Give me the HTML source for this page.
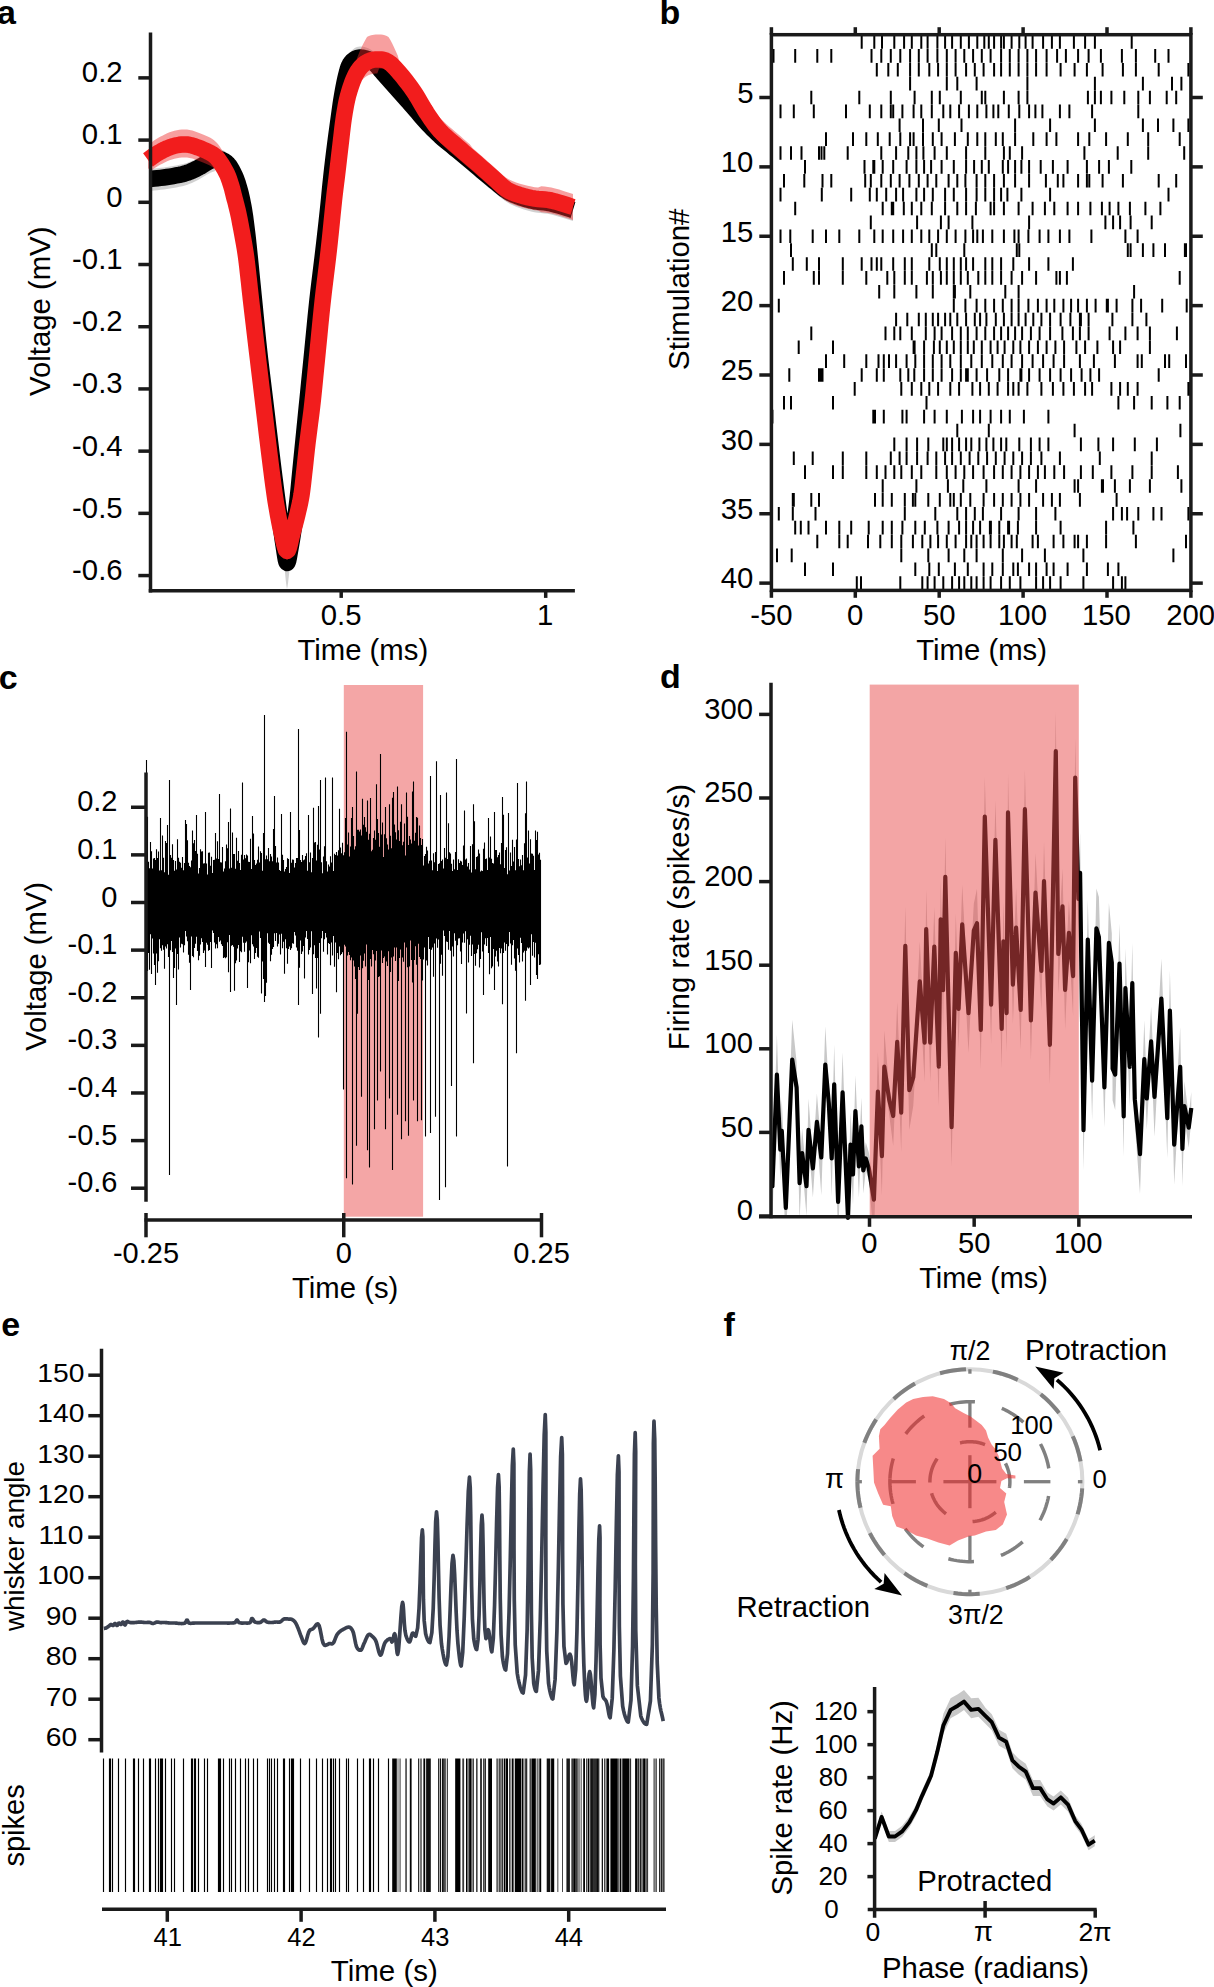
<!DOCTYPE html>
<html><head><meta charset="utf-8"><style>
html,body{margin:0;padding:0;background:#fff;width:1214px;height:1987px;overflow:hidden}
svg{display:block}
text{font-family:"Liberation Sans",sans-serif}
</style></head><body>
<svg width="1214" height="1987" viewBox="0 0 1214 1987">
<rect width="1214" height="1987" fill="#fff"/>
<g stroke-linejoin="round" stroke-linecap="butt">
<path d="M150,169 L151.84,168.8 L154.37,168.54 L157.38,168.22 L160.63,167.85 L163.91,167.44 L167,167 L170,166.53 L173.11,166.02 L176.25,165.47 L179.33,164.87 L182.28,164.22 L185,163.5 L187.47,162.72 L189.74,161.87 L191.88,160.97 L193.93,160.02 L195.95,159.03 L198,158 L200.09,156.86 L202.19,155.59 L204.25,154.28 L206.26,153.02 L208.19,151.89 L210,151 L211.67,150.3 L213.22,149.7 L214.69,149.25 L216.11,148.96 L217.53,148.87 L219,149 L220.52,149.35 L222.07,149.89 L223.62,150.62 L225.15,151.56 L226.62,152.68 L228,154 L229.31,155.56 L230.56,157.37 L231.75,159.38 L232.89,161.52 L233.97,163.75 L235,166 L235.96,168.28 L236.85,170.63 L237.69,173.06 L238.48,175.59 L239.25,178.23 L240,181 L240.74,183.9 L241.44,186.93 L242.12,190.06 L242.78,193.3 L243.4,196.61 L244,200 L244.56,203.48 L245.09,207.07 L245.59,210.75 L246.07,214.48 L246.54,218.24 L247,222 L247.45,225.75 L247.87,229.52 L248.28,233.31 L248.69,237.15 L249.09,241.04 L249.5,245 L249.92,249.11 L250.35,253.37 L250.78,257.69 L251.2,261.96 L251.61,266.1 L252,270 L252.33,273.28 L252.59,275.93 L252.84,278.44 L253.13,281.3 L253.5,284.99 L254,290 L254.65,296.6 L255.41,304.44 L256.25,313.12 L257.15,322.22 L258.07,331.32 L259,340 L259.94,348.33 L260.93,356.67 L261.94,365 L262.96,373.33 L263.99,381.67 L265,390 L266.01,398.45 L267.04,407.04 L268.06,415.62 L269.07,424.07 L270.06,432.25 L271,440 L271.9,447.36 L272.78,454.44 L273.62,461.25 L274.44,467.78 L275.24,474.03 L276,480 L276.73,485.64 L277.43,490.93 L278.09,495.94 L278.74,500.74 L279.37,505.41 L280,510 L280.61,514.54 L281.2,518.96 L281.78,523.25 L282.35,527.37 L282.92,531.3 L283.5,535 L284.08,538.79 L284.67,542.74 L285.25,546.5 L285.83,549.7 L286.42,551.99 L287,553 L287.58,552.49 L288.17,550.7 L288.75,548 L289.33,544.74 L289.92,541.29 L290.5,538 L291.08,534.78 L291.67,531.33 L292.25,527.69 L292.83,523.89 L293.42,519.98 L294,516 L294.59,511.94 L295.19,507.78 L295.78,503.5 L296.37,499.11 L296.95,494.61 L297.5,490 L298.03,485.23 L298.54,480.3 L299.03,475.25 L299.52,470.15 L300.01,465.05 L300.5,460 L300.99,455.12 L301.46,450.37 L301.94,445.62 L302.43,440.74 L302.94,435.58 L303.5,430 L304.1,424.03 L304.72,417.78 L305.38,411.25 L306.06,404.44 L306.76,397.36 L307.5,390 L308.28,382.25 L309.09,374.07 L309.94,365.62 L310.8,357.04 L311.66,348.45 L312.5,340 L313.32,331.67 L314.13,323.33 L314.94,315 L315.76,306.67 L316.61,298.33 L317.5,290 L318.46,281.55 L319.48,272.96 L320.53,264.38 L321.57,255.93 L322.58,247.75 L323.5,240 L324.35,232.64 L325.17,225.56 L325.94,218.75 L326.67,212.22 L327.35,205.97 L328,200 L328.58,194.42 L329.09,189.26 L329.56,184.38 L330.02,179.63 L330.49,174.88 L331,170 L331.55,165 L332.11,160 L332.69,155 L333.28,150 L333.88,145 L334.5,140 L335.14,134.93 L335.81,129.78 L336.5,124.62 L337.19,119.56 L337.86,114.65 L338.5,110 L339.11,105.61 L339.69,101.41 L340.25,96.38 L340.81,92.48 L341.39,88.7 L342,85 L342.64,81.34 L343.3,77.74 L343.97,74.25 L344.65,70.93 L345.33,67.82 L346,65 L346.63,62.47 L347.22,60.19 L347.81,58.12 L348.44,56.26 L349.16,54.56 L350,53 L350.97,51.58 L352.04,50.31 L353.19,49.22 L354.41,48.3 L355.68,47.55 L357,47 L358.4,46.66 L359.89,46.54 L361.44,46.59 L363,46.8 L364.53,47.11 L366,47.5 L367.39,47.97 L368.74,48.54 L370.06,49.22 L371.37,50.02 L372.68,50.94 L374,52 L375.33,53.24 L376.67,54.67 L378,56.22 L379.33,57.83 L380.67,60.45 L382,62 L383.33,63.5 L384.67,65 L386,66.5 L387.33,68 L388.67,69.5 L390,71 L391.33,72.5 L392.67,74 L394,75.5 L395.33,77 L396.67,78.5 L398,80 L399.33,81.5 L400.67,83 L402,84.5 L403.33,86 L404.67,87.5 L406,89 L407.29,90.44 L408.52,91.81 L409.75,93.19 L411.04,94.63 L412.44,96.21 L414,98 L415.75,100.04 L417.63,102.3 L419.62,104.69 L421.7,107.15 L423.84,109.61 L426,112 L428.17,114.32 L430.37,116.63 L432.62,118.94 L434.96,121.26 L437.41,123.61 L440,126 L442.77,128.44 L445.7,130.93 L448.75,133.44 L451.85,135.96 L454.95,138.49 L458,141 L461,143.5 L464,146 L467,148.5 L470,150 L473,152.5 L476,155 L479.02,157.53 L482.07,160.11 L485.12,162.69 L488.15,165.22 L491.12,167.67 L494,170 L496.72,172.23 L499.3,174.39 L501.81,176.47 L504.37,178.44 L507.07,180.3 L510,182 L513.22,183.56 L516.67,185 L520.25,186.31 L523.89,187.5 L527.5,188.56 L531,189.5 L534.37,190.22 L537.67,190.7 L540.94,191.06 L544.22,191.41 L547.56,191.85 L551,192.5 L554.81,193.46 L559,194.65 L563.25,195.94 L567.22,197.19 L570.58,198.25 L573,199 L573,221 L570.58,220.25 L567.22,219.19 L563.25,217.94 L559,216.65 L554.81,215.46 L551,214.5 L547.56,213.85 L544.22,213.41 L540.94,213.06 L537.67,212.7 L534.37,212.22 L531,211.5 L527.5,210.56 L523.89,209.5 L520.25,208.31 L516.67,207 L513.22,205.56 L510,204 L507.07,202.3 L504.37,200.44 L501.81,198.47 L499.3,196.39 L496.72,194.23 L494,192 L491.12,189.67 L488.15,187.22 L485.12,184.69 L482.07,182.11 L479.02,179.53 L476,177 L473,174.5 L470,172 L467,168.5 L464,166 L461,163.5 L458,161 L454.95,158.49 L451.85,155.96 L448.75,153.44 L445.7,150.93 L442.77,148.44 L440,146 L437.41,143.61 L434.96,141.26 L432.62,138.94 L430.37,136.63 L428.17,134.32 L426,132 L423.84,129.61 L421.7,127.15 L419.62,124.69 L417.63,122.3 L415.75,120.04 L414,118 L412.44,116.21 L411.04,114.63 L409.75,113.19 L408.52,111.81 L407.29,110.44 L406,109 L404.67,107.5 L403.33,106 L402,104.5 L400.67,103 L399.33,101.5 L398,100 L396.67,98.5 L395.33,97 L394,95.5 L392.67,94 L391.33,92.5 L390,91 L388.67,89.5 L387.33,88 L386,86.5 L384.67,85 L383.33,83.5 L382,82 L380.67,80.45 L379.33,78.83 L378,77.22 L376.67,75.67 L375.33,74.24 L374,73 L372.68,71.94 L371.37,71.02 L370.06,70.22 L368.74,69.54 L367.39,68.97 L366,68.5 L364.53,68.11 L363,67.8 L361.44,67.59 L359.89,67.54 L358.4,67.66 L357,68 L355.68,68.55 L354.41,69.3 L353.19,70.22 L352.04,71.31 L350.97,72.58 L350,74 L349.16,75.56 L348.44,77.26 L347.81,79.12 L347.22,81.19 L346.63,83.47 L346,86 L345.33,88.82 L344.65,91.93 L343.97,95.25 L343.3,98.74 L342.64,102.34 L342,106 L341.39,109.7 L340.81,113.48 L340.25,117.38 L339.69,121.41 L339.11,125.61 L338.5,130 L337.86,134.65 L337.19,139.56 L336.5,144.62 L335.81,149.78 L335.14,154.93 L334.5,160 L333.88,165 L333.28,170 L332.69,175 L332.11,180 L331.55,185 L331,190 L330.49,194.88 L330.02,199.63 L329.56,204.38 L329.09,209.26 L328.58,214.42 L328,220 L327.35,225.97 L326.67,232.22 L325.94,238.75 L325.17,245.56 L324.35,252.64 L323.5,260 L322.58,267.75 L321.57,275.93 L320.53,284.38 L319.48,292.96 L318.46,301.55 L317.5,310 L316.61,318.33 L315.76,326.67 L314.94,335 L314.13,343.33 L313.32,351.67 L312.5,360 L311.66,368.45 L310.8,377.04 L309.94,385.62 L309.09,394.07 L308.28,402.25 L307.5,410 L306.76,417.36 L306.06,424.44 L305.38,431.25 L304.72,437.78 L304.1,444.03 L303.5,450 L302.94,455.58 L302.43,460.74 L301.94,465.62 L301.46,470.37 L300.99,475.12 L300.5,480 L300.01,485.05 L299.52,490.15 L299.03,495.25 L298.54,500.3 L298.03,505.23 L297.5,510 L296.95,514.61 L296.37,519.11 L295.78,523.5 L295.19,527.78 L294.59,531.94 L294,536 L293.42,539.98 L292.83,543.89 L292.25,547.69 L291.67,551.33 L291.08,554.78 L290.5,560 L289.92,565.62 L289.33,571.41 L288.75,577 L288.17,582.04 L287.58,586.16 L287,589 L286.42,585.66 L285.83,581.04 L285.25,575.5 L284.67,569.41 L284.08,563.12 L283.5,557 L282.92,551.3 L282.35,547.37 L281.78,543.25 L281.2,538.96 L280.61,534.54 L280,530 L279.37,525.41 L278.74,520.74 L278.09,515.94 L277.43,510.93 L276.73,505.64 L276,500 L275.24,494.03 L274.44,487.78 L273.62,481.25 L272.78,474.44 L271.9,467.36 L271,460 L270.06,452.25 L269.07,444.07 L268.06,435.62 L267.04,427.04 L266.01,418.45 L265,410 L263.99,401.67 L262.96,393.33 L261.94,385 L260.93,376.67 L259.94,368.33 L259,360 L258.07,351.32 L257.15,342.22 L256.25,333.12 L255.41,324.44 L254.65,316.6 L254,310 L253.5,304.99 L253.13,301.3 L252.84,298.44 L252.59,295.93 L252.33,293.28 L252,290 L251.61,286.1 L251.2,281.96 L250.78,277.69 L250.35,273.37 L249.92,269.11 L249.5,265 L249.09,261.04 L248.69,257.15 L248.28,253.31 L247.87,249.52 L247.45,245.75 L247,242 L246.54,238.24 L246.07,234.48 L245.59,230.75 L245.09,227.07 L244.56,223.48 L244,220 L243.4,216.61 L242.78,213.3 L242.12,210.06 L241.44,206.93 L240.74,203.9 L240,201 L239.25,198.23 L238.48,195.59 L237.69,193.06 L236.85,190.63 L235.96,188.28 L235,186 L233.97,183.75 L232.89,181.52 L231.75,179.38 L230.56,177.37 L229.31,175.56 L228,174 L226.62,172.68 L225.15,171.56 L223.62,170.62 L222.07,169.89 L220.52,169.35 L219,169 L217.53,168.87 L216.11,168.96 L214.69,171.25 L213.22,171.7 L211.67,172.3 L210,173 L208.19,173.89 L206.26,175.02 L204.25,176.28 L202.19,177.59 L200.09,178.86 L198,180 L195.95,181.03 L193.93,182.02 L191.88,182.97 L189.74,183.87 L187.47,184.72 L185,185.5 L182.28,186.22 L179.33,186.87 L176.25,187.47 L173.11,188.02 L170,188.53 L167,189 L163.91,189.44 L160.63,189.85 L157.38,190.22 L154.37,190.54 L151.84,190.8 L150,191Z" fill="#c9c9c9" stroke="none" opacity="0.85"/>
<path d="M150,179 L151.84,178.8 L154.37,178.54 L157.38,178.22 L160.63,177.85 L163.91,177.44 L167,177 L170,176.53 L173.11,176.02 L176.25,175.47 L179.33,174.87 L182.28,174.22 L185,173.5 L187.47,172.72 L189.74,171.87 L191.88,170.97 L193.93,170.02 L195.95,169.03 L198,168 L200.09,166.86 L202.19,165.59 L204.25,164.28 L206.26,163.02 L208.19,161.89 L210,161 L211.67,160.3 L213.22,159.7 L214.69,159.25 L216.11,158.96 L217.53,158.87 L219,159 L220.52,159.35 L222.07,159.89 L223.62,160.62 L225.15,161.56 L226.62,162.68 L228,164 L229.31,165.56 L230.56,167.37 L231.75,169.38 L232.89,171.52 L233.97,173.75 L235,176 L235.96,178.28 L236.85,180.63 L237.69,183.06 L238.48,185.59 L239.25,188.23 L240,191 L240.74,193.9 L241.44,196.93 L242.12,200.06 L242.78,203.3 L243.4,206.61 L244,210 L244.56,213.48 L245.09,217.07 L245.59,220.75 L246.07,224.48 L246.54,228.24 L247,232 L247.45,235.75 L247.87,239.52 L248.28,243.31 L248.69,247.15 L249.09,251.04 L249.5,255 L249.92,259.11 L250.35,263.37 L250.78,267.69 L251.2,271.96 L251.61,276.1 L252,280 L252.33,283.28 L252.59,285.93 L252.84,288.44 L253.13,291.3 L253.5,294.99 L254,300 L254.65,306.6 L255.41,314.44 L256.25,323.12 L257.15,332.22 L258.07,341.32 L259,350 L259.94,358.33 L260.93,366.67 L261.94,375 L262.96,383.33 L263.99,391.67 L265,400 L266.01,408.45 L267.04,417.04 L268.06,425.62 L269.07,434.07 L270.06,442.25 L271,450 L271.9,457.36 L272.78,464.44 L273.62,471.25 L274.44,477.78 L275.24,484.03 L276,490 L276.73,495.64 L277.43,500.93 L278.09,505.94 L278.74,510.74 L279.37,515.41 L280,520 L280.61,524.54 L281.2,528.96 L281.78,533.25 L282.35,537.37 L282.92,541.3 L283.5,545 L284.08,548.79 L284.67,552.74 L285.25,556.5 L285.83,559.7 L286.42,561.99 L287,563 L287.58,562.49 L288.17,560.7 L288.75,558 L289.33,554.74 L289.92,551.29 L290.5,548 L291.08,544.78 L291.67,541.33 L292.25,537.69 L292.83,533.89 L293.42,529.98 L294,526 L294.59,521.94 L295.19,517.78 L295.78,513.5 L296.37,509.11 L296.95,504.61 L297.5,500 L298.03,495.23 L298.54,490.3 L299.03,485.25 L299.52,480.15 L300.01,475.05 L300.5,470 L300.99,465.12 L301.46,460.37 L301.94,455.62 L302.43,450.74 L302.94,445.58 L303.5,440 L304.1,434.03 L304.72,427.78 L305.38,421.25 L306.06,414.44 L306.76,407.36 L307.5,400 L308.28,392.25 L309.09,384.07 L309.94,375.62 L310.8,367.04 L311.66,358.45 L312.5,350 L313.32,341.67 L314.13,333.33 L314.94,325 L315.76,316.67 L316.61,308.33 L317.5,300 L318.46,291.55 L319.48,282.96 L320.53,274.38 L321.57,265.93 L322.58,257.75 L323.5,250 L324.35,242.64 L325.17,235.56 L325.94,228.75 L326.67,222.22 L327.35,215.97 L328,210 L328.58,204.42 L329.09,199.26 L329.56,194.38 L330.02,189.63 L330.49,184.88 L331,180 L331.55,175 L332.11,170 L332.69,165 L333.28,160 L333.88,155 L334.5,150 L335.14,144.93 L335.81,139.78 L336.5,134.62 L337.19,129.56 L337.86,124.65 L338.5,120 L339.11,115.61 L339.69,111.41 L340.25,107.38 L340.81,103.48 L341.39,99.7 L342,96 L342.64,92.34 L343.3,88.74 L343.97,85.25 L344.65,81.93 L345.33,78.82 L346,76 L346.63,73.47 L347.22,71.19 L347.81,69.12 L348.44,67.26 L349.16,65.56 L350,64 L350.97,62.58 L352.04,61.31 L353.19,60.22 L354.41,59.3 L355.68,58.55 L357,58 L358.4,57.66 L359.89,57.54 L361.44,57.59 L363,57.8 L364.53,58.11 L366,58.5 L367.39,58.97 L368.74,59.54 L370.06,60.22 L371.37,61.02 L372.68,61.94 L374,63 L375.33,64.24 L376.67,65.67 L378,67.22 L379.33,68.83 L380.67,70.45 L382,72 L383.33,73.5 L384.67,75 L386,76.5 L387.33,78 L388.67,79.5 L390,81 L391.33,82.5 L392.67,84 L394,85.5 L395.33,87 L396.67,88.5 L398,90 L399.33,91.5 L400.67,93 L402,94.5 L403.33,96 L404.67,97.5 L406,99 L407.29,100.44 L408.52,101.81 L409.75,103.19 L411.04,104.63 L412.44,106.21 L414,108 L415.75,110.04 L417.63,112.3 L419.62,114.69 L421.7,117.15 L423.84,119.61 L426,122 L428.17,124.32 L430.37,126.63 L432.62,128.94 L434.96,131.26 L437.41,133.61 L440,136 L442.77,138.44 L445.7,140.93 L448.75,143.44 L451.85,145.96 L454.95,148.49 L458,151 L461,153.5 L464,156 L467,158.5 L470,161 L473,163.5 L476,166 L479.02,168.53 L482.07,171.11 L485.12,173.69 L488.15,176.22 L491.12,178.67 L494,181 L496.72,183.23 L499.3,185.39 L501.81,187.47 L504.37,189.44 L507.07,191.3 L510,193 L513.22,194.56 L516.67,196 L520.25,197.31 L523.89,198.5 L527.5,199.56 L531,200.5 L534.37,201.22 L537.67,201.7 L540.94,202.06 L544.22,202.41 L547.56,202.85 L551,203.5 L554.81,204.46 L559,205.65 L563.25,206.94 L567.22,208.19 L570.58,209.25 L573,210" fill="none" stroke="#000" stroke-width="16.5"/>
<path d="M148,151 L149.04,150.23 L150.44,143.17 L152.12,141.91 L154,140.56 L155.99,139.22 L158,138 L160.09,136.84 L162.33,135.63 L164.69,134.44 L167.11,133.31 L169.56,132.32 L172,131.5 L174.43,130.83 L176.89,130.24 L179.38,129.78 L181.89,129.48 L184.43,129.38 L187,129.5 L189.64,129.9 L192.37,130.56 L195.12,131.41 L197.85,132.39 L200.5,133.44 L203,134.5 L205.38,135.52 L207.67,136.54 L209.88,137.62 L212,138.85 L214.04,140.29 L216,142 L217.9,144.09 L219.74,146.52 L221.5,149.16 L223.15,151.87 L224.66,154.53 L226,163 L227.15,165.3 L228.11,167.54 L228.94,169.72 L229.67,171.86 L230.34,173.95 L231,176 L231.61,177.97 L232.13,179.84 L232.59,181.66 L233.04,183.5 L233.49,185.39 L234,187.4 L234.56,189.53 L235.15,191.73 L235.75,194 L236.35,196.31 L236.94,198.65 L237.5,201 L238.01,203.22 L238.46,205.29 L238.91,207.39 L239.37,209.69 L239.89,212.37 L240.5,215.6 L241.24,219.52 L242.08,224.03 L242.98,228.91 L243.89,233.97 L244.74,239 L245.5,243.8 L246.16,248.47 L246.77,253.21 L247.32,257.91 L247.84,262.5 L248.33,266.89 L248.8,271 L249.19,274.39 L249.47,277.05 L249.73,279.51 L250.03,282.3 L250.43,285.96 L251,291 L251.78,297.72 L252.72,305.74 L253.76,314.62 L254.86,323.93 L255.96,333.2 L257,342 L258,350.39 L259,358.74 L260,367.06 L261,375.37 L262,383.68 L263,392 L264.01,400.46 L265.04,409.07 L266.06,417.69 L267.07,426.15 L268.06,434.3 L269,442 L269.91,449.33 L270.8,456.44 L271.66,463.25 L272.48,469.67 L273.27,475.61 L274,481 L274.66,485.67 L275.26,489.67 L275.81,493.19 L276.35,496.44 L276.91,499.65 L277.5,503 L278.12,506.46 L278.74,509.85 L279.38,513.19 L280.04,516.48 L280.74,519.75 L281.5,523 L282.33,526.65 L283.22,530.78 L284.16,534.88 L285.11,538.44 L286.07,540.99 L287,542 L287.92,541.15 L288.85,538.78 L289.78,535.38 L290.7,531.44 L291.61,527.49 L292.5,524 L293.37,520.89 L294.24,517.74 L295.09,514.56 L295.93,511.37 L296.73,508.18 L297.5,505 L298.24,501.9 L298.94,498.89 L299.62,495.88 L300.28,492.78 L300.9,489.51 L301.5,486 L302.06,482.16 L302.59,478.04 L303.09,473.75 L303.57,469.41 L304.04,465.12 L304.5,461 L304.95,457.02 L305.37,453.07 L305.78,449.19 L306.19,445.37 L306.59,441.64 L307,438 L307.41,434.56 L307.81,431.33 L308.21,428.19 L308.61,425 L309.04,421.65 L309.5,418 L309.97,414.29 L310.45,410.67 L310.94,406.88 L311.47,402.67 L312.05,397.79 L312.7,392 L313.43,385.06 L314.23,377.11 L315.09,368.5 L315.97,359.56 L316.85,350.61 L317.7,342 L318.52,333.68 L319.33,325.37 L320.13,317.06 L320.95,308.74 L321.8,300.39 L322.7,292 L323.66,283.55 L324.69,275.04 L325.74,266.5 L326.79,257.96 L327.82,249.45 L328.8,241 L329.74,232.32 L330.68,223.33 L331.59,214.38 L332.46,205.78 L333.27,197.88 L334,191 L334.62,185.44 L335.14,181 L335.61,177.25 L336.04,173.78 L336.5,170.17 L337,166 L337.56,161.23 L338.15,156.19 L338.75,151 L339.35,145.81 L339.94,140.77 L340.5,136 L341.02,131.49 L341.52,127.11 L342,122.88 L342.48,118.78 L342.98,114.82 L343.5,111 L344.05,107.31 L344.61,103.74 L345.19,100.31 L345.78,97.04 L346.38,93.93 L347,91 L347.64,88.27 L348.3,85.74 L348.97,83.38 L349.65,81.15 L350.33,79.03 L351,77 L351.66,75.08 L352.3,73.3 L352.94,71.09 L353.59,68.79 L354.28,66.5 L355,64.2 L355.75,61.9 L356.52,59.64 L357.31,57.41 L358.15,55.18 L359.04,52.95 L360,50.7 L361.03,48.41 L362.13,46.08 L363.28,43.75 L364.47,41.45 L365.72,39.18 L367,37 L368.31,36.33 L369.66,35.76 L371.04,35.28 L372.49,34.91 L374,34.64 L375.6,34.5 L377.31,34.42 L379.11,34.39 L380.99,34.47 L382.91,34.72 L384.82,35.21 L386.7,36 L388.5,37.06 L390.23,39.69 L391.97,43.11 L393.77,46.85 L395.69,51.01 L397.8,55.68 L400.17,64.73 L402.75,67.85 L405.46,71.25 L408.2,74.81 L410.88,78.44 L413.4,82 L415.76,85.6 L418.03,89.33 L420.24,93.12 L422.42,96.89 L424.6,100.54 L426.8,104 L428.97,107.25 L431.07,106.37 L433.18,109.38 L435.34,112.3 L437.62,115.16 L440.1,118 L442.81,120.79 L445.7,123.51 L448.72,126.17 L451.8,128.79 L454.88,131.4 L457.9,134 L460.87,136.59 L463.83,139.14 L466.8,141.67 L469.77,144.2 L472.73,148.23 L475.7,150.8 L478.69,153.42 L481.71,156.1 L484.74,158.79 L487.73,161.45 L490.66,164.03 L493.5,166.5 L496.15,168.89 L498.62,171.26 L501.02,173.54 L503.49,175.71 L506.14,177.71 L509.1,179.5 L512.44,181.07 L516.09,182.44 L519.92,183.66 L523.82,184.72 L527.65,185.66 L531.3,186.5 L534.74,187.13 L538.07,187.52 L541.33,186.28 L544.59,186.54 L547.89,186.9 L551.3,187.5 L555.07,188.43 L559.21,189.61 L563.4,190.91 L567.31,192.17 L570.62,193.25 L573,194 L573,220 L570.62,219.25 L567.31,218.17 L563.4,216.91 L559.21,215.61 L555.07,214.43 L551.3,213.5 L547.89,212.9 L544.59,212.54 L541.33,212.28 L538.07,210.52 L534.74,210.13 L531.3,209.5 L527.65,208.66 L523.82,207.72 L519.92,206.66 L516.09,205.44 L512.44,204.07 L509.1,202.5 L506.14,200.71 L503.49,198.71 L501.02,196.54 L498.62,194.26 L496.15,191.89 L493.5,189.5 L490.66,187.03 L487.73,184.45 L484.74,181.79 L481.71,179.1 L478.69,176.42 L475.7,173.8 L472.73,171.23 L469.77,168.7 L466.8,166.17 L463.83,163.64 L460.87,161.09 L457.9,158.5 L454.88,155.9 L451.8,153.29 L448.72,150.67 L445.7,148.01 L442.81,145.29 L440.1,142.5 L437.62,139.66 L435.34,136.8 L433.18,133.88 L431.07,130.87 L428.97,125.25 L426.8,122 L424.6,118.54 L422.42,114.89 L420.24,111.12 L418.03,107.33 L415.76,103.6 L413.4,100 L410.88,96.44 L408.2,92.81 L405.46,89.25 L402.75,85.85 L400.17,82.73 L397.8,80 L395.69,77.66 L393.77,75.61 L391.97,73.84 L390.23,72.33 L388.5,71.06 L386.7,70 L384.82,69.21 L382.91,68.72 L380.99,68.47 L379.11,68.39 L377.31,73.42 L375.6,73.5 L374,73.64 L372.49,73.91 L371.04,74.28 L369.66,74.76 L368.31,75.33 L367,76 L365.72,76.77 L364.47,77.67 L363.28,78.66 L362.13,79.72 L361.03,75.84 L360,77 L359.04,78.19 L358.15,79.44 L357.31,80.75 L356.52,82.11 L355.75,83.53 L355,85 L354.28,86.5 L353.59,88.04 L352.94,89.62 L352.3,91.3 L351.66,93.08 L351,95 L350.33,97.03 L349.65,99.15 L348.97,101.38 L348.3,103.74 L347.64,106.27 L347,109 L346.38,111.93 L345.78,115.04 L345.19,118.31 L344.61,121.74 L344.05,125.31 L343.5,129 L342.98,132.82 L342.48,136.78 L342,140.88 L341.52,145.11 L341.02,149.49 L340.5,154 L339.94,158.77 L339.35,163.81 L338.75,169 L338.15,174.19 L337.56,179.23 L337,184 L336.5,188.17 L336.04,191.78 L335.61,195.25 L335.14,199 L334.62,203.44 L334,209 L333.27,215.88 L332.46,223.78 L331.59,232.38 L330.68,241.33 L329.74,250.32 L328.8,259 L327.82,267.45 L326.79,275.96 L325.74,284.5 L324.69,293.04 L323.66,301.55 L322.7,310 L321.8,318.39 L320.95,326.74 L320.13,335.06 L319.33,343.37 L318.52,351.68 L317.7,360 L316.85,368.61 L315.97,377.56 L315.09,386.5 L314.23,395.11 L313.43,403.06 L312.7,410 L312.05,415.79 L311.47,420.67 L310.94,424.88 L310.45,428.67 L309.97,432.29 L309.5,436 L309.04,439.65 L308.61,443 L308.21,446.19 L307.81,449.33 L307.41,452.56 L307,456 L306.59,459.64 L306.19,463.37 L305.78,467.19 L305.37,471.07 L304.95,475.02 L304.5,479 L304.04,483.12 L303.57,487.41 L303.09,491.75 L302.59,496.04 L302.06,500.16 L301.5,504 L300.9,507.51 L300.28,510.78 L299.62,513.88 L298.94,516.89 L298.24,519.9 L297.5,523 L296.73,526.18 L295.93,529.37 L295.09,532.56 L294.24,535.74 L293.37,538.89 L292.5,542 L291.61,545.49 L290.7,549.44 L289.78,553.38 L288.85,556.78 L287.92,559.15 L287,560 L286.07,558.99 L285.11,556.44 L284.16,552.88 L283.22,548.78 L282.33,544.65 L281.5,541 L280.74,537.75 L280.04,534.48 L279.38,531.19 L278.74,527.85 L278.12,524.46 L277.5,521 L276.91,517.65 L276.35,514.44 L275.81,511.19 L275.26,507.67 L274.66,503.67 L274,499 L273.27,493.61 L272.48,487.67 L271.66,481.25 L270.8,474.44 L269.91,467.33 L269,460 L268.06,452.3 L267.07,444.15 L266.06,435.69 L265.04,427.07 L264.01,418.46 L263,410 L262,401.68 L261,393.37 L260,385.06 L259,376.74 L258,368.39 L257,360 L255.96,351.2 L254.86,341.93 L253.76,332.62 L252.72,323.74 L251.78,315.72 L251,309 L250.43,303.96 L250.03,300.3 L249.73,297.51 L249.47,295.05 L249.19,292.39 L248.8,289 L248.33,284.89 L247.84,280.5 L247.32,275.91 L246.77,271.21 L246.16,266.47 L245.5,261.8 L244.74,257 L243.89,251.97 L242.98,246.91 L242.08,242.03 L241.24,237.52 L240.5,233.6 L239.89,230.37 L239.37,227.69 L238.91,225.39 L238.46,223.29 L238.01,221.22 L237.5,219 L236.94,216.65 L236.35,214.31 L235.75,212 L235.15,209.73 L234.56,207.53 L234,205.4 L233.49,203.39 L233.04,201.5 L232.59,199.66 L232.13,197.84 L231.61,195.97 L231,194 L230.34,191.95 L229.67,189.86 L228.94,187.72 L228.11,185.54 L227.15,183.3 L226,181 L224.66,182.53 L223.15,179.87 L221.5,177.16 L219.74,174.52 L217.9,172.09 L216,170 L214.04,168.29 L212,166.85 L209.88,165.62 L207.67,164.54 L205.38,163.52 L203,162.5 L200.5,161.44 L197.85,160.39 L195.12,159.41 L192.37,158.56 L189.64,157.9 L187,157.5 L184.43,157.38 L181.89,157.48 L179.38,157.78 L176.89,158.24 L174.43,158.83 L172,159.5 L169.56,160.32 L167.11,161.31 L164.69,162.44 L162.33,163.63 L160.09,164.84 L158,166 L155.99,167.22 L154,168.56 L152.12,169.91 L150.44,171.17 L149.04,168.23 L148,169Z" fill="#ee2a2a" stroke="none" opacity="0.45"/>
<path d="M148,160 L149.04,159.23 L150.44,158.17 L152.12,156.91 L154,155.56 L155.99,154.22 L158,153 L160.09,151.84 L162.33,150.63 L164.69,149.44 L167.11,148.31 L169.56,147.32 L172,146.5 L174.43,145.83 L176.89,145.24 L179.38,144.78 L181.89,144.48 L184.43,144.38 L187,144.5 L189.64,144.9 L192.37,145.56 L195.12,146.41 L197.85,147.39 L200.5,148.44 L203,149.5 L205.38,150.52 L207.67,151.54 L209.88,152.62 L212,153.85 L214.04,155.29 L216,157 L217.9,159.09 L219.74,161.52 L221.5,164.16 L223.15,166.87 L224.66,169.53 L226,172 L227.15,174.3 L228.11,176.54 L228.94,178.72 L229.67,180.86 L230.34,182.95 L231,185 L231.61,186.97 L232.13,188.84 L232.59,190.66 L233.04,192.5 L233.49,194.39 L234,196.4 L234.56,198.53 L235.15,200.73 L235.75,203 L236.35,205.31 L236.94,207.65 L237.5,210 L238.01,212.22 L238.46,214.29 L238.91,216.39 L239.37,218.69 L239.89,221.37 L240.5,224.6 L241.24,228.52 L242.08,233.03 L242.98,237.91 L243.89,242.97 L244.74,248 L245.5,252.8 L246.16,257.47 L246.77,262.21 L247.32,266.91 L247.84,271.5 L248.33,275.89 L248.8,280 L249.19,283.39 L249.47,286.05 L249.73,288.51 L250.03,291.3 L250.43,294.96 L251,300 L251.78,306.72 L252.72,314.74 L253.76,323.62 L254.86,332.93 L255.96,342.2 L257,351 L258,359.39 L259,367.74 L260,376.06 L261,384.37 L262,392.68 L263,401 L264.01,409.46 L265.04,418.07 L266.06,426.69 L267.07,435.15 L268.06,443.3 L269,451 L269.91,458.33 L270.8,465.44 L271.66,472.25 L272.48,478.67 L273.27,484.61 L274,490 L274.66,494.67 L275.26,498.67 L275.81,502.19 L276.35,505.44 L276.91,508.65 L277.5,512 L278.12,515.46 L278.74,518.85 L279.38,522.19 L280.04,525.48 L280.74,528.75 L281.5,532 L282.33,535.65 L283.22,539.78 L284.16,543.88 L285.11,547.44 L286.07,549.99 L287,551 L287.92,550.15 L288.85,547.78 L289.78,544.38 L290.7,540.44 L291.61,536.49 L292.5,533 L293.37,529.89 L294.24,526.74 L295.09,523.56 L295.93,520.37 L296.73,517.18 L297.5,514 L298.24,510.9 L298.94,507.89 L299.62,504.88 L300.28,501.78 L300.9,498.51 L301.5,495 L302.06,491.16 L302.59,487.04 L303.09,482.75 L303.57,478.41 L304.04,474.12 L304.5,470 L304.95,466.02 L305.37,462.07 L305.78,458.19 L306.19,454.37 L306.59,450.64 L307,447 L307.41,443.56 L307.81,440.33 L308.21,437.19 L308.61,434 L309.04,430.65 L309.5,427 L309.97,423.29 L310.45,419.67 L310.94,415.88 L311.47,411.67 L312.05,406.79 L312.7,401 L313.43,394.06 L314.23,386.11 L315.09,377.5 L315.97,368.56 L316.85,359.61 L317.7,351 L318.52,342.68 L319.33,334.37 L320.13,326.06 L320.95,317.74 L321.8,309.39 L322.7,301 L323.66,292.55 L324.69,284.04 L325.74,275.5 L326.79,266.96 L327.82,258.45 L328.8,250 L329.74,241.32 L330.68,232.33 L331.59,223.38 L332.46,214.78 L333.27,206.88 L334,200 L334.62,194.44 L335.14,190 L335.61,186.25 L336.04,182.78 L336.5,179.17 L337,175 L337.56,170.23 L338.15,165.19 L338.75,160 L339.35,154.81 L339.94,149.77 L340.5,145 L341.02,140.49 L341.52,136.11 L342,131.88 L342.48,127.78 L342.98,123.82 L343.5,120 L344.05,116.31 L344.61,112.74 L345.19,109.31 L345.78,106.04 L346.38,102.93 L347,100 L347.64,97.27 L348.3,94.74 L348.97,92.38 L349.65,90.15 L350.33,88.03 L351,86 L351.66,84.08 L352.3,82.3 L352.94,80.62 L353.59,79.04 L354.28,77.5 L355,76 L355.75,74.53 L356.52,73.11 L357.31,71.75 L358.15,70.44 L359.04,69.19 L360,68 L361.03,66.84 L362.13,65.72 L363.28,64.66 L364.47,63.67 L365.72,62.77 L367,62 L368.31,61.33 L369.66,60.76 L371.04,60.28 L372.49,59.91 L374,59.64 L375.6,59.5 L377.31,59.42 L379.11,59.39 L380.99,59.47 L382.91,59.72 L384.82,60.21 L386.7,61 L388.5,62.06 L390.23,63.33 L391.97,64.84 L393.77,66.61 L395.69,68.66 L397.8,71 L400.17,73.73 L402.75,76.85 L405.46,80.25 L408.2,83.81 L410.88,87.44 L413.4,91 L415.76,94.6 L418.03,98.33 L420.24,102.12 L422.42,105.89 L424.6,109.54 L426.8,113 L428.97,116.25 L431.07,119.37 L433.18,122.38 L435.34,125.3 L437.62,128.16 L440.1,131 L442.81,133.79 L445.7,136.51 L448.72,139.17 L451.8,141.79 L454.88,144.4 L457.9,147 L460.87,149.59 L463.83,152.14 L466.8,154.67 L469.77,157.2 L472.73,159.73 L475.7,162.3 L478.69,164.92 L481.71,167.6 L484.74,170.29 L487.73,172.95 L490.66,175.53 L493.5,178 L496.15,180.39 L498.62,182.76 L501.02,185.04 L503.49,187.21 L506.14,189.21 L509.1,191 L512.44,192.57 L516.09,193.94 L519.92,195.16 L523.82,196.22 L527.65,197.16 L531.3,198 L534.74,198.63 L538.07,199.02 L541.33,199.28 L544.59,199.54 L547.89,199.9 L551.3,200.5 L555.07,201.43 L559.21,202.61 L563.4,203.91 L567.31,205.17 L570.62,206.25 L573,207" fill="none" stroke="#f21d1d" stroke-width="16.5"/>
</g>
<line x1="150.5" y1="32.5" x2="150.5" y2="592.5" stroke="#1a1a1a" stroke-width="3.5"/>
<line x1="148.75" y1="590.75" x2="574.9" y2="590.75" stroke="#1a1a1a" stroke-width="3.5"/>
<line x1="138.3" y1="77.88" x2="150.5" y2="77.88" stroke="#1a1a1a" stroke-width="3.5"/>
<line x1="138.3" y1="140.09" x2="150.5" y2="140.09" stroke="#1a1a1a" stroke-width="3.5"/>
<line x1="138.3" y1="202.3" x2="150.5" y2="202.3" stroke="#1a1a1a" stroke-width="3.5"/>
<line x1="138.3" y1="264.51" x2="150.5" y2="264.51" stroke="#1a1a1a" stroke-width="3.5"/>
<line x1="138.3" y1="326.72" x2="150.5" y2="326.72" stroke="#1a1a1a" stroke-width="3.5"/>
<line x1="138.3" y1="388.93" x2="150.5" y2="388.93" stroke="#1a1a1a" stroke-width="3.5"/>
<line x1="138.3" y1="451.14" x2="150.5" y2="451.14" stroke="#1a1a1a" stroke-width="3.5"/>
<line x1="138.3" y1="513.35" x2="150.5" y2="513.35" stroke="#1a1a1a" stroke-width="3.5"/>
<line x1="138.3" y1="575.56" x2="150.5" y2="575.56" stroke="#1a1a1a" stroke-width="3.5"/>
<line x1="341.2" y1="590.75" x2="341.2" y2="597.9" stroke="#1a1a1a" stroke-width="3.5"/>
<line x1="545.7" y1="590.75" x2="545.7" y2="597.9" stroke="#1a1a1a" stroke-width="3.5"/>
<path d="M861.7,35.2v13.6M874.3,35.2v13.6M882.0,35.2v13.6M894.3,35.2v13.6M904.1,35.2v13.6M911.8,35.2v13.6M921.3,35.2v13.6M927.6,35.2v13.6M937.4,35.2v13.6M945.1,35.2v13.6M952.1,35.2v13.6M960.8,35.2v13.6M968.9,35.2v13.6M977.3,35.2v13.6M984.3,35.2v13.6M988.8,35.2v13.6M994.1,35.2v13.6M1001.1,35.2v13.6M1003.9,35.2v13.6M1011.6,35.2v13.6M1019.3,35.2v13.6M1025.6,35.2v13.6M1032.6,35.2v13.6M1043.1,35.2v13.6M1051.9,35.2v13.6M1059.9,35.2v13.6M1073.9,35.2v13.6M1085.1,35.2v13.6M1094.9,35.2v13.6M1131.7,35.2v13.6M773.5,49.1v13.6M795.2,49.1v13.6M817.3,49.1v13.6M831.3,49.1v13.6M871.5,49.1v13.6M881.3,49.1v13.6M890.8,49.1v13.6M900.3,49.1v13.6M910.1,49.1v13.6M918.8,49.1v13.6M927.6,49.1v13.6M937.4,49.1v13.6M946.8,49.1v13.6M955.6,49.1v13.6M964.3,49.1v13.6M973.1,49.1v13.6M981.8,49.1v13.6M990.6,49.1v13.6M1001.1,49.1v13.6M1009.8,49.1v13.6M1018.6,49.1v13.6M1027.4,49.1v13.6M1036.1,49.1v13.6M1046.6,49.1v13.6M1057.1,49.1v13.6M1065.9,49.1v13.6M1078.1,49.1v13.6M1088.6,49.1v13.6M1100.9,49.1v13.6M1121.9,49.1v13.6M1135.9,49.1v13.6M1155.2,49.1v13.6M1168.5,49.1v13.6M876.8,63.0v13.6M888.3,63.0v13.6M897.8,63.0v13.6M910.1,63.0v13.6M918.8,63.0v13.6M929.3,63.0v13.6M938.1,63.0v13.6M946.8,63.0v13.6M955.6,63.0v13.6M966.1,63.0v13.6M974.8,63.0v13.6M983.6,63.0v13.6M994.1,63.0v13.6M1001.1,63.0v13.6M1009.8,63.0v13.6M1018.6,63.0v13.6M1027.4,63.0v13.6M1036.1,63.0v13.6M1046.6,63.0v13.6M1060.6,63.0v13.6M1074.6,63.0v13.6M1086.9,63.0v13.6M1102.6,63.0v13.6M1122.9,63.0v13.6M1135.9,63.0v13.6M1158.7,63.0v13.6M1188.4,63.0v13.6M910.1,76.8v13.6M946.8,76.8v13.6M957.3,76.8v13.6M976.6,76.8v13.6M1027.4,76.8v13.6M1094.9,76.8v13.6M1142.9,76.8v13.6M1172.0,76.8v13.6M1181.4,76.8v13.6M811.3,90.7v13.6M859.3,90.7v13.6M890.8,90.7v13.6M914.6,90.7v13.6M931.8,90.7v13.6M939.8,90.7v13.6M960.8,90.7v13.6M981.8,90.7v13.6M985.3,90.7v13.6M1003.9,90.7v13.6M1018.6,90.7v13.6M1027.4,90.7v13.6M1087.9,90.7v13.6M1094.9,90.7v13.6M1100.9,90.7v13.6M1111.4,90.7v13.6M1124.3,90.7v13.6M1138.3,90.7v13.6M1149.9,90.7v13.6M1166.7,90.7v13.6M1176.2,90.7v13.6M780.5,104.6v13.6M793.8,104.6v13.6M813.8,104.6v13.6M846.0,104.6v13.6M869.8,104.6v13.6M881.3,104.6v13.6M890.8,104.6v13.6M893.2,104.6v13.6M902.4,104.6v13.6M913.6,104.6v13.6M921.3,104.6v13.6M931.8,104.6v13.6M943.3,104.6v13.6M950.3,104.6v13.6M959.1,104.6v13.6M968.9,104.6v13.6M977.3,104.6v13.6M986.4,104.6v13.6M993.4,104.6v13.6M998.3,104.6v13.6M1008.8,104.6v13.6M1019.3,104.6v13.6M1029.1,104.6v13.6M1035.4,104.6v13.6M1042.4,104.6v13.6M1059.9,104.6v13.6M1069.4,104.6v13.6M1092.1,104.6v13.6M1138.3,104.6v13.6M899.6,118.5v13.6M923.0,118.5v13.6M938.8,118.5v13.6M961.5,118.5v13.6M1015.1,118.5v13.6M1050.1,118.5v13.6M1094.9,118.5v13.6M1142.9,118.5v13.6M1158.0,118.5v13.6M1173.4,118.5v13.6M1188.4,118.5v13.6M826.0,132.3v13.6M853.0,132.3v13.6M866.3,132.3v13.6M877.8,132.3v13.6M889.7,132.3v13.6M900.3,132.3v13.6M910.1,132.3v13.6M913.6,132.3v13.6M923.0,132.3v13.6M932.8,132.3v13.6M941.6,132.3v13.6M954.9,132.3v13.6M967.8,132.3v13.6M977.3,132.3v13.6M985.3,132.3v13.6M995.8,132.3v13.6M1002.8,132.3v13.6M1015.1,132.3v13.6M1033.3,132.3v13.6M1046.6,132.3v13.6M1056.4,132.3v13.6M1078.1,132.3v13.6M1089.3,132.3v13.6M1106.1,132.3v13.6M1127.8,132.3v13.6M1148.2,132.3v13.6M1179.7,132.3v13.6M780.5,146.2v13.6M791.0,146.2v13.6M801.5,146.2v13.6M819.0,146.2v13.6M821.5,146.2v13.6M824.3,146.2v13.6M847.7,146.2v13.6M881.3,146.2v13.6M896.1,146.2v13.6M908.3,146.2v13.6M916.4,146.2v13.6M923.4,146.2v13.6M934.6,146.2v13.6M946.8,146.2v13.6M966.1,146.2v13.6M985.3,146.2v13.6M1003.9,146.2v13.6M1009.8,146.2v13.6M1022.1,146.2v13.6M1084.4,146.2v13.6M1117.7,146.2v13.6M1148.2,146.2v13.6M1184.2,146.2v13.6M805.0,160.1v13.6M864.5,160.1v13.6M873.3,160.1v13.6M874.3,160.1v13.6M882.7,160.1v13.6M893.2,160.1v13.6M906.6,160.1v13.6M916.4,160.1v13.6M924.1,160.1v13.6M931.1,160.1v13.6M941.6,160.1v13.6M953.8,160.1v13.6M966.1,160.1v13.6M974.1,160.1v13.6M981.8,160.1v13.6M988.8,160.1v13.6M1002.8,160.1v13.6M1008.1,160.1v13.6M1015.1,160.1v13.6M1021.4,160.1v13.6M1029.1,160.1v13.6M1040.7,160.1v13.6M1052.9,160.1v13.6M1067.6,160.1v13.6M1086.9,160.1v13.6M1099.1,160.1v13.6M1108.9,160.1v13.6M1131.3,160.1v13.6M784.0,173.9v13.6M804.3,173.9v13.6M822.5,173.9v13.6M831.3,173.9v13.6M865.2,173.9v13.6M870.8,173.9v13.6M881.3,173.9v13.6M890.8,173.9v13.6M899.6,173.9v13.6M909.4,173.9v13.6M918.8,173.9v13.6M927.6,173.9v13.6M936.3,173.9v13.6M948.6,173.9v13.6M957.3,173.9v13.6M965.4,173.9v13.6M976.6,173.9v13.6M985.3,173.9v13.6M994.1,173.9v13.6M1003.9,173.9v13.6M1015.1,173.9v13.6M1029.1,173.9v13.6M1045.9,173.9v13.6M1057.8,173.9v13.6M1063.4,173.9v13.6M1078.1,173.9v13.6M1086.9,173.9v13.6M1089.3,173.9v13.6M1102.6,173.9v13.6M1122.9,173.9v13.6M1158.7,173.9v13.6M1176.2,173.9v13.6M780.5,187.8v13.6M821.8,187.8v13.6M851.2,187.8v13.6M869.8,187.8v13.6M876.8,187.8v13.6M886.2,187.8v13.6M896.1,187.8v13.6M903.1,187.8v13.6M916.4,187.8v13.6M924.1,187.8v13.6M932.8,187.8v13.6M945.1,187.8v13.6M953.8,187.8v13.6M966.1,187.8v13.6M976.6,187.8v13.6M985.3,187.8v13.6M994.1,187.8v13.6M1001.1,187.8v13.6M1007.4,187.8v13.6M1021.4,187.8v13.6M1050.1,187.8v13.6M1168.5,187.8v13.6M795.2,201.7v13.6M882.7,201.7v13.6M891.8,201.7v13.6M893.2,201.7v13.6M903.8,201.7v13.6M911.8,201.7v13.6M921.3,201.7v13.6M931.8,201.7v13.6M945.1,201.7v13.6M957.3,201.7v13.6M966.1,201.7v13.6M975.9,201.7v13.6M990.6,201.7v13.6M994.1,201.7v13.6M1003.9,201.7v13.6M1018.6,201.7v13.6M1032.6,201.7v13.6M1044.9,201.7v13.6M1054.3,201.7v13.6M1067.6,201.7v13.6M1078.1,201.7v13.6M1090.4,201.7v13.6M1101.9,201.7v13.6M1109.6,201.7v13.6M1118.4,201.7v13.6M1129.9,201.7v13.6M1145.4,201.7v13.6M1160.4,201.7v13.6M870.8,215.6v13.6M917.1,215.6v13.6M940.9,215.6v13.6M948.6,215.6v13.6M972.4,215.6v13.6M1029.1,215.6v13.6M1105.4,215.6v13.6M1113.1,215.6v13.6M1120.1,215.6v13.6M1130.6,215.6v13.6M1151.7,215.6v13.6M780.5,229.4v13.6M790.3,229.4v13.6M812.7,229.4v13.6M826.0,229.4v13.6M839.3,229.4v13.6M859.3,229.4v13.6M874.3,229.4v13.6M882.7,229.4v13.6M893.2,229.4v13.6M903.1,229.4v13.6M911.8,229.4v13.6M921.3,229.4v13.6M929.3,229.4v13.6M938.1,229.4v13.6M946.8,229.4v13.6M955.6,229.4v13.6M965.4,229.4v13.6M973.1,229.4v13.6M977.3,229.4v13.6M982.9,229.4v13.6M992.3,229.4v13.6M1003.9,229.4v13.6M1014.4,229.4v13.6M1018.6,229.4v13.6M1028.4,229.4v13.6M1039.6,229.4v13.6M1048.4,229.4v13.6M1059.9,229.4v13.6M1069.4,229.4v13.6M1091.4,229.4v13.6M1125.4,229.4v13.6M1137.6,229.4v13.6M791.0,243.3v13.6M931.8,243.3v13.6M936.3,243.3v13.6M964.3,243.3v13.6M1016.8,243.3v13.6M1019.3,243.3v13.6M1127.8,243.3v13.6M1130.6,243.3v13.6M1142.9,243.3v13.6M1153.4,243.3v13.6M1165.0,243.3v13.6M1184.9,243.3v13.6M1186.0,243.3v13.6M792.8,257.2v13.6M806.8,257.2v13.6M819.0,257.2v13.6M842.8,257.2v13.6M861.7,257.2v13.6M871.5,257.2v13.6M876.8,257.2v13.6M881.3,257.2v13.6M893.2,257.2v13.6M904.8,257.2v13.6M911.8,257.2v13.6M929.3,257.2v13.6M939.8,257.2v13.6M946.8,257.2v13.6M953.8,257.2v13.6M960.8,257.2v13.6M966.1,257.2v13.6M973.1,257.2v13.6M985.3,257.2v13.6M992.3,257.2v13.6M1001.1,257.2v13.6M1013.3,257.2v13.6M1029.1,257.2v13.6M1048.4,257.2v13.6M1072.9,257.2v13.6M784.0,271.1v13.6M813.8,271.1v13.6M819.0,271.1v13.6M842.8,271.1v13.6M866.3,271.1v13.6M887.3,271.1v13.6M894.3,271.1v13.6M904.8,271.1v13.6M911.8,271.1v13.6M926.9,271.1v13.6M932.8,271.1v13.6M940.9,271.1v13.6M946.8,271.1v13.6M953.8,271.1v13.6M960.8,271.1v13.6M967.8,271.1v13.6M978.3,271.1v13.6M985.3,271.1v13.6M992.3,271.1v13.6M1001.1,271.1v13.6M1011.6,271.1v13.6M1022.1,271.1v13.6M1036.1,271.1v13.6M1056.4,271.1v13.6M1059.9,271.1v13.6M1066.9,271.1v13.6M1179.7,271.1v13.6M879.2,284.9v13.6M894.3,284.9v13.6M916.4,284.9v13.6M932.8,284.9v13.6M953.8,284.9v13.6M954.9,284.9v13.6M970.3,284.9v13.6M1005.3,284.9v13.6M1018.6,284.9v13.6M1134.1,284.9v13.6M778.8,298.8v13.6M953.8,298.8v13.6M965.4,298.8v13.6M976.6,298.8v13.6M985.3,298.8v13.6M994.1,298.8v13.6M1002.8,298.8v13.6M1011.6,298.8v13.6M1018.6,298.8v13.6M1028.4,298.8v13.6M1037.9,298.8v13.6M1046.6,298.8v13.6M1054.3,298.8v13.6M1063.4,298.8v13.6M1071.1,298.8v13.6M1078.1,298.8v13.6M1086.9,298.8v13.6M1095.6,298.8v13.6M1106.8,298.8v13.6M1107.9,298.8v13.6M1116.6,298.8v13.6M1132.4,298.8v13.6M1141.1,298.8v13.6M1162.2,298.8v13.6M1186.7,298.8v13.6M896.1,312.7v13.6M907.3,312.7v13.6M918.8,312.7v13.6M925.8,312.7v13.6M932.8,312.7v13.6M938.1,312.7v13.6M945.1,312.7v13.6M950.3,312.7v13.6M957.3,312.7v13.6M966.1,312.7v13.6M974.8,312.7v13.6M980.1,312.7v13.6M986.4,312.7v13.6M995.8,312.7v13.6M1003.9,312.7v13.6M1011.6,312.7v13.6M1018.6,312.7v13.6M1025.6,312.7v13.6M1033.3,312.7v13.6M1041.4,312.7v13.6M1050.1,312.7v13.6M1060.6,312.7v13.6M1070.4,312.7v13.6M1079.9,312.7v13.6M1080.9,312.7v13.6M1088.6,312.7v13.6M1112.4,312.7v13.6M1132.4,312.7v13.6M1146.4,312.7v13.6M811.3,326.6v13.6M885.5,326.6v13.6M894.3,326.6v13.6M900.3,326.6v13.6M911.8,326.6v13.6M925.8,326.6v13.6M934.6,326.6v13.6M941.6,326.6v13.6M952.1,326.6v13.6M960.8,326.6v13.6M967.8,326.6v13.6M976.6,326.6v13.6M985.3,326.6v13.6M994.1,326.6v13.6M1001.1,326.6v13.6M1008.1,326.6v13.6M1015.1,326.6v13.6M1022.1,326.6v13.6M1030.9,326.6v13.6M1039.6,326.6v13.6M1050.1,326.6v13.6M1062.4,326.6v13.6M1072.9,326.6v13.6M1079.9,326.6v13.6M1088.6,326.6v13.6M1109.6,326.6v13.6M1125.4,326.6v13.6M1137.6,326.6v13.6M1149.9,326.6v13.6M1176.9,326.6v13.6M798.7,340.4v13.6M833.0,340.4v13.6M913.6,340.4v13.6M914.6,340.4v13.6M924.1,340.4v13.6M933.9,340.4v13.6M939.8,340.4v13.6M946.8,340.4v13.6M953.8,340.4v13.6M960.8,340.4v13.6M967.8,340.4v13.6M973.8,340.4v13.6M981.8,340.4v13.6M990.6,340.4v13.6M997.6,340.4v13.6M1004.6,340.4v13.6M1013.3,340.4v13.6M1020.4,340.4v13.6M1029.1,340.4v13.6M1037.9,340.4v13.6M1046.6,340.4v13.6M1055.4,340.4v13.6M1064.1,340.4v13.6M1076.4,340.4v13.6M1085.1,340.4v13.6M1097.4,340.4v13.6M1113.1,340.4v13.6M1120.1,340.4v13.6M1149.9,340.4v13.6M826.0,354.3v13.6M844.2,354.3v13.6M866.3,354.3v13.6M878.5,354.3v13.6M883.8,354.3v13.6M889.0,354.3v13.6M896.1,354.3v13.6M906.6,354.3v13.6M915.3,354.3v13.6M924.1,354.3v13.6M932.8,354.3v13.6M941.6,354.3v13.6M950.3,354.3v13.6M960.8,354.3v13.6M971.3,354.3v13.6M981.8,354.3v13.6M992.3,354.3v13.6M1002.8,354.3v13.6M1011.6,354.3v13.6M1022.1,354.3v13.6M1032.6,354.3v13.6M1043.1,354.3v13.6M1053.6,354.3v13.6M1064.1,354.3v13.6M1079.9,354.3v13.6M1093.9,354.3v13.6M1114.9,354.3v13.6M1137.6,354.3v13.6M1141.8,354.3v13.6M1165.0,354.3v13.6M1169.2,354.3v13.6M1186.0,354.3v13.6M789.3,368.2v13.6M819.0,368.2v13.6M820.8,368.2v13.6M822.5,368.2v13.6M861.7,368.2v13.6M876.8,368.2v13.6M883.8,368.2v13.6M900.3,368.2v13.6M908.3,368.2v13.6M914.3,368.2v13.6M924.1,368.2v13.6M932.8,368.2v13.6M941.6,368.2v13.6M952.1,368.2v13.6M960.8,368.2v13.6M966.1,368.2v13.6M967.8,368.2v13.6M976.6,368.2v13.6M987.1,368.2v13.6M999.3,368.2v13.6M1008.1,368.2v13.6M1020.4,368.2v13.6M1021.4,368.2v13.6M1029.1,368.2v13.6M1039.6,368.2v13.6M1050.1,368.2v13.6M1060.6,368.2v13.6M1071.1,368.2v13.6M1081.6,368.2v13.6M1090.4,368.2v13.6M1099.1,368.2v13.6M1158.7,368.2v13.6M854.7,382.1v13.6M901.3,382.1v13.6M911.8,382.1v13.6M921.3,382.1v13.6M929.3,382.1v13.6M938.1,382.1v13.6M950.3,382.1v13.6M959.1,382.1v13.6M972.4,382.1v13.6M980.1,382.1v13.6M988.8,382.1v13.6M997.6,382.1v13.6M1008.1,382.1v13.6M1013.3,382.1v13.6M1018.6,382.1v13.6M1027.4,382.1v13.6M1041.4,382.1v13.6M1052.9,382.1v13.6M1063.4,382.1v13.6M1073.9,382.1v13.6M1085.1,382.1v13.6M1092.1,382.1v13.6M1111.4,382.1v13.6M1120.1,382.1v13.6M1127.8,382.1v13.6M1137.6,382.1v13.6M1188.4,382.1v13.6M1189.5,382.1v13.6M784.0,395.9v13.6M791.0,395.9v13.6M833.0,395.9v13.6M926.5,395.9v13.6M1118.4,395.9v13.6M1134.1,395.9v13.6M1151.7,395.9v13.6M1167.4,395.9v13.6M1179.7,395.9v13.6M772.4,409.8v13.6M873.3,409.8v13.6M875.0,409.8v13.6M883.8,409.8v13.6M902.4,409.8v13.6M906.6,409.8v13.6M924.1,409.8v13.6M934.6,409.8v13.6M946.8,409.8v13.6M961.9,409.8v13.6M973.1,409.8v13.6M980.1,409.8v13.6M990.6,409.8v13.6M1001.1,409.8v13.6M1009.8,409.8v13.6M1023.9,409.8v13.6M1048.4,409.8v13.6M957.3,423.7v13.6M988.8,423.7v13.6M1074.6,423.7v13.6M1180.4,423.7v13.6M894.3,437.6v13.6M906.6,437.6v13.6M917.1,437.6v13.6M928.3,437.6v13.6M943.3,437.6v13.6M946.8,437.6v13.6M952.1,437.6v13.6M959.1,437.6v13.6M966.1,437.6v13.6M971.3,437.6v13.6M979.4,437.6v13.6M986.4,437.6v13.6M993.4,437.6v13.6M1001.1,437.6v13.6M1006.3,437.6v13.6M1019.3,437.6v13.6M1030.9,437.6v13.6M1039.6,437.6v13.6M1048.4,437.6v13.6M1080.9,437.6v13.6M1098.4,437.6v13.6M1113.1,437.6v13.6M1134.8,437.6v13.6M1156.9,437.6v13.6M793.8,451.4v13.6M812.7,451.4v13.6M842.8,451.4v13.6M866.3,451.4v13.6M890.8,451.4v13.6M899.6,451.4v13.6M906.6,451.4v13.6M917.1,451.4v13.6M927.6,451.4v13.6M936.3,451.4v13.6M945.1,451.4v13.6M952.1,451.4v13.6M960.8,451.4v13.6M969.6,451.4v13.6M978.3,451.4v13.6M987.1,451.4v13.6M995.8,451.4v13.6M1004.6,451.4v13.6M1013.3,451.4v13.6M1022.1,451.4v13.6M1030.9,451.4v13.6M1041.4,451.4v13.6M1059.9,451.4v13.6M1099.8,451.4v13.6M1151.7,451.4v13.6M805.0,465.3v13.6M833.0,465.3v13.6M842.8,465.3v13.6M866.3,465.3v13.6M876.8,465.3v13.6M885.5,465.3v13.6M894.3,465.3v13.6M901.3,465.3v13.6M911.8,465.3v13.6M921.3,465.3v13.6M936.3,465.3v13.6M946.8,465.3v13.6M955.6,465.3v13.6M964.3,465.3v13.6M973.1,465.3v13.6M983.6,465.3v13.6M994.1,465.3v13.6M1002.8,465.3v13.6M1011.6,465.3v13.6M1020.4,465.3v13.6M1029.1,465.3v13.6M1037.9,465.3v13.6M1044.9,465.3v13.6M1054.3,465.3v13.6M1064.1,465.3v13.6M1080.9,465.3v13.6M1092.8,465.3v13.6M1111.4,465.3v13.6M1132.4,465.3v13.6M1151.7,465.3v13.6M1177.9,465.3v13.6M882.7,479.2v13.6M916.4,479.2v13.6M947.9,479.2v13.6M963.3,479.2v13.6M986.4,479.2v13.6M1018.6,479.2v13.6M1036.1,479.2v13.6M1074.6,479.2v13.6M1078.1,479.2v13.6M1101.9,479.2v13.6M1103.0,479.2v13.6M1114.9,479.2v13.6M1129.9,479.2v13.6M1149.9,479.2v13.6M1181.4,479.2v13.6M792.8,493.1v13.6M793.8,493.1v13.6M811.3,493.1v13.6M819.0,493.1v13.6M875.0,493.1v13.6M882.7,493.1v13.6M891.8,493.1v13.6M904.8,493.1v13.6M912.9,493.1v13.6M915.3,493.1v13.6M928.3,493.1v13.6M939.8,493.1v13.6M950.3,493.1v13.6M953.8,493.1v13.6M960.8,493.1v13.6M970.3,493.1v13.6M983.6,493.1v13.6M994.1,493.1v13.6M1002.8,493.1v13.6M1011.6,493.1v13.6M1020.4,493.1v13.6M1029.1,493.1v13.6M1043.1,493.1v13.6M1051.9,493.1v13.6M1059.9,493.1v13.6M1079.9,493.1v13.6M1116.6,493.1v13.6M778.8,506.9v13.6M792.8,506.9v13.6M815.5,506.9v13.6M904.8,506.9v13.6M935.3,506.9v13.6M957.3,506.9v13.6M966.1,506.9v13.6M974.8,506.9v13.6M982.9,506.9v13.6M1001.1,506.9v13.6M1018.6,506.9v13.6M1036.1,506.9v13.6M1055.4,506.9v13.6M1113.1,506.9v13.6M1121.9,506.9v13.6M1127.1,506.9v13.6M1138.3,506.9v13.6M1153.4,506.9v13.6M1161.5,506.9v13.6M1188.4,506.9v13.6M795.2,520.8v13.6M800.8,520.8v13.6M808.5,520.8v13.6M826.0,520.8v13.6M839.3,520.8v13.6M851.2,520.8v13.6M868.7,520.8v13.6M882.7,520.8v13.6M891.8,520.8v13.6M902.4,520.8v13.6M915.3,520.8v13.6M924.8,520.8v13.6M937.4,520.8v13.6M948.6,520.8v13.6M959.1,520.8v13.6M966.1,520.8v13.6M973.1,520.8v13.6M980.1,520.8v13.6M989.9,520.8v13.6M990.9,520.8v13.6M999.3,520.8v13.6M1008.1,520.8v13.6M1009.1,520.8v13.6M1017.9,520.8v13.6M1036.1,520.8v13.6M1060.6,520.8v13.6M1106.1,520.8v13.6M1133.4,520.8v13.6M817.3,534.7v13.6M839.3,534.7v13.6M847.7,534.7v13.6M868.0,534.7v13.6M880.3,534.7v13.6M891.8,534.7v13.6M901.3,534.7v13.6M912.9,534.7v13.6M922.3,534.7v13.6M930.4,534.7v13.6M938.1,534.7v13.6M946.8,534.7v13.6M955.6,534.7v13.6M966.1,534.7v13.6M971.3,534.7v13.6M976.6,534.7v13.6M983.6,534.7v13.6M990.6,534.7v13.6M999.3,534.7v13.6M1003.9,534.7v13.6M1011.6,534.7v13.6M1016.8,534.7v13.6M1032.6,534.7v13.6M1037.9,534.7v13.6M1053.6,534.7v13.6M1063.4,534.7v13.6M1074.6,534.7v13.6M1078.1,534.7v13.6M1086.9,534.7v13.6M1106.1,534.7v13.6M1135.9,534.7v13.6M1186.0,534.7v13.6M777.0,548.6v13.6M791.7,548.6v13.6M901.3,548.6v13.6M928.3,548.6v13.6M948.6,548.6v13.6M964.3,548.6v13.6M976.6,548.6v13.6M1002.8,548.6v13.6M1022.1,548.6v13.6M1044.9,548.6v13.6M1083.4,548.6v13.6M1173.4,548.6v13.6M805.0,562.5v13.6M833.0,562.5v13.6M915.3,562.5v13.6M929.3,562.5v13.6M938.8,562.5v13.6M954.9,562.5v13.6M967.8,562.5v13.6M983.6,562.5v13.6M992.3,562.5v13.6M1002.8,562.5v13.6M1013.3,562.5v13.6M1017.9,562.5v13.6M1029.1,562.5v13.6M1036.1,562.5v13.6M1046.6,562.5v13.6M1053.6,562.5v13.6M1067.6,562.5v13.6M1086.9,562.5v13.6M1107.9,562.5v13.6M1118.4,562.5v13.6M856.8,576.3v13.6M861.0,576.3v13.6M900.3,576.3v13.6M922.3,576.3v13.6M927.6,576.3v13.6M934.6,576.3v13.6M943.3,576.3v13.6M952.1,576.3v13.6M959.1,576.3v13.6M964.3,576.3v13.6M971.3,576.3v13.6M976.6,576.3v13.6M983.6,576.3v13.6M990.6,576.3v13.6M1001.1,576.3v13.6M1009.8,576.3v13.6M1020.4,576.3v13.6M1036.1,576.3v13.6M1043.1,576.3v13.6M1050.1,576.3v13.6M1060.6,576.3v13.6M1083.4,576.3v13.6M1113.1,576.3v13.6M1121.9,576.3v13.6M1125.4,576.3v13.6" stroke="#000" stroke-width="2.0" fill="none"/>
<rect x="771.4" y="34.7" width="419.5" height="555.7" fill="none" stroke="#1a1a1a" stroke-width="3.5"/>
<line x1="771.4" y1="34.7" x2="771.4" y2="27.2" stroke="#1a1a1a" stroke-width="3.5"/>
<line x1="771.4" y1="590.4" x2="771.4" y2="597.8" stroke="#1a1a1a" stroke-width="3.5"/>
<line x1="855.3" y1="34.7" x2="855.3" y2="27.2" stroke="#1a1a1a" stroke-width="3.5"/>
<line x1="855.3" y1="590.4" x2="855.3" y2="597.8" stroke="#1a1a1a" stroke-width="3.5"/>
<line x1="939.2" y1="34.7" x2="939.2" y2="27.2" stroke="#1a1a1a" stroke-width="3.5"/>
<line x1="939.2" y1="590.4" x2="939.2" y2="597.8" stroke="#1a1a1a" stroke-width="3.5"/>
<line x1="1023.1" y1="34.7" x2="1023.1" y2="27.2" stroke="#1a1a1a" stroke-width="3.5"/>
<line x1="1023.1" y1="590.4" x2="1023.1" y2="597.8" stroke="#1a1a1a" stroke-width="3.5"/>
<line x1="1107" y1="34.7" x2="1107" y2="27.2" stroke="#1a1a1a" stroke-width="3.5"/>
<line x1="1107" y1="590.4" x2="1107" y2="597.8" stroke="#1a1a1a" stroke-width="3.5"/>
<line x1="1190.9" y1="34.7" x2="1190.9" y2="27.2" stroke="#1a1a1a" stroke-width="3.5"/>
<line x1="1190.9" y1="590.4" x2="1190.9" y2="597.8" stroke="#1a1a1a" stroke-width="3.5"/>
<line x1="759.3" y1="97.5" x2="771.4" y2="97.5" stroke="#1a1a1a" stroke-width="3.5"/>
<line x1="1190.9" y1="97.5" x2="1202.8" y2="97.5" stroke="#1a1a1a" stroke-width="3.5"/>
<line x1="759.3" y1="166.88" x2="771.4" y2="166.88" stroke="#1a1a1a" stroke-width="3.5"/>
<line x1="1190.9" y1="166.88" x2="1202.8" y2="166.88" stroke="#1a1a1a" stroke-width="3.5"/>
<line x1="759.3" y1="236.25" x2="771.4" y2="236.25" stroke="#1a1a1a" stroke-width="3.5"/>
<line x1="1190.9" y1="236.25" x2="1202.8" y2="236.25" stroke="#1a1a1a" stroke-width="3.5"/>
<line x1="759.3" y1="305.62" x2="771.4" y2="305.62" stroke="#1a1a1a" stroke-width="3.5"/>
<line x1="1190.9" y1="305.62" x2="1202.8" y2="305.62" stroke="#1a1a1a" stroke-width="3.5"/>
<line x1="759.3" y1="375" x2="771.4" y2="375" stroke="#1a1a1a" stroke-width="3.5"/>
<line x1="1190.9" y1="375" x2="1202.8" y2="375" stroke="#1a1a1a" stroke-width="3.5"/>
<line x1="759.3" y1="444.38" x2="771.4" y2="444.38" stroke="#1a1a1a" stroke-width="3.5"/>
<line x1="1190.9" y1="444.38" x2="1202.8" y2="444.38" stroke="#1a1a1a" stroke-width="3.5"/>
<line x1="759.3" y1="513.75" x2="771.4" y2="513.75" stroke="#1a1a1a" stroke-width="3.5"/>
<line x1="1190.9" y1="513.75" x2="1202.8" y2="513.75" stroke="#1a1a1a" stroke-width="3.5"/>
<line x1="759.3" y1="583.12" x2="771.4" y2="583.12" stroke="#1a1a1a" stroke-width="3.5"/>
<line x1="1190.9" y1="583.12" x2="1202.8" y2="583.12" stroke="#1a1a1a" stroke-width="3.5"/>
<rect x="343.8" y="685" width="79.3" height="531.7" fill="#f4a6a6"/>
<path d="M147.5,855.8V950.9M147.5,816.8V970.9M148.5,866.6V937.3M148.5,861.8V952.9M149.5,868.2V969.7M149.5,872.3V939.6M150.5,842.1V930.5M150.5,842.2V934.2M151.5,851.2V936.8M151.5,859.5V974.1M152.5,868.6V938.5M153.5,858.4V953.5M153.5,861.7V938.8M154.5,858.0V941.3M154.5,869.5V965.1M155.5,859.9V935.7M155.5,874.6V940.1M156.5,849.2V939.6M156.5,862.3V953.5M157.5,858.0V972.7M158.5,866.0V961.2M158.5,851.6V945.2M159.5,871.0V939.2M159.5,870.5V933.1M160.5,870.5V941.2M160.5,868.2V948.3M161.5,870.2V950.8M161.5,871.0V935.2M162.5,835.5V945.3M162.5,864.1V935.6M163.5,857.8V949.8M164.5,872.2V945.0M164.5,873.1V968.8M165.5,841.1V946.6M165.5,874.8V937.4M166.5,843.0V934.5M166.5,850.2V948.6M167.5,855.8V933.6M167.5,824.9V944.2M168.5,874.8V957.1M169.5,857.5V956.0M169.5,872.6V964.0M170.5,858.0V950.3M170.5,855.1V932.6M171.5,857.8V938.0M171.5,873.7V941.1M172.5,866.3V946.4M172.5,844.3V952.0M173.5,860.1V978.1M173.5,863.5V932.4M174.5,870.7V967.9M175.5,871.5V948.6M175.5,860.9V948.6M176.5,874.8V991.4M176.5,869.4V935.4M177.5,839.2V952.3M177.5,865.9V954.1M178.5,857.7V943.3M178.5,863.2V969.5M179.5,861.8V937.6M180.5,869.0V943.8M180.5,862.8V947.5M181.5,872.2V941.7M181.5,867.8V943.8M182.5,867.7V934.8M182.5,856.9V944.3M183.5,870.2V952.4M183.5,873.2V932.8M184.5,863.0V945.2M184.5,873.9V945.2M185.5,857.5V931.1M186.5,861.2V936.6M186.5,824.0V930.9M187.5,840.2V941.2M187.5,846.9V933.0M188.5,868.9V954.8M188.5,862.7V942.0M189.5,866.1V962.7M189.5,869.0V948.2M190.5,867.3V935.5M191.5,860.4V930.4M191.5,872.6V936.4M192.5,857.4V955.9M192.5,830.6V931.8M193.5,870.0V957.3M193.5,843.2V940.8M194.5,840.0V948.0M194.5,862.6V941.2M195.5,851.1V943.7M195.5,862.1V936.7M196.5,860.4V936.7M197.5,861.6V950.9M197.5,853.7V938.6M198.5,874.2V960.3M198.5,873.4V947.5M199.5,869.5V955.8M199.5,867.9V935.2M200.5,861.6V944.6M200.5,849.3V935.5M201.5,851.5V938.2M202.5,851.3V934.7M202.5,864.2V942.1M203.5,863.6V941.1M203.5,863.5V952.9M204.5,863.2V947.7M204.5,873.9V950.6M205.5,870.5V967.0M205.5,841.5V937.2M206.5,867.6V931.9M206.5,863.6V942.8M207.5,874.5V944.7M208.5,852.8V950.8M208.5,867.8V940.5M209.5,852.5V950.0M209.5,858.6V948.4M210.5,874.1V937.4M210.5,865.7V941.9M211.5,872.0V958.7M211.5,856.8V968.1M212.5,873.1V930.4M213.5,870.7V933.1M213.5,860.0V932.1M214.5,859.7V942.6M214.5,874.7V935.9M215.5,874.3V948.6M215.5,832.9V941.4M216.5,858.6V942.9M216.5,859.1V944.3M217.5,841.2V940.0M217.5,870.3V948.2M218.5,859.0V937.1M219.5,858.3V941.8M219.5,865.6V936.7M220.5,862.2V930.4M220.5,868.1V940.5M221.5,870.8V944.2M221.5,862.5V937.6M222.5,856.1V946.1M222.5,847.0V942.0M223.5,871.4V958.0M224.5,868.6V936.6M224.5,873.0V957.2M225.5,861.2V953.1M225.5,872.2V958.2M226.5,844.4V957.3M226.5,848.7V947.3M227.5,865.1V932.2M227.5,848.2V942.2M228.5,859.4V940.4M228.5,870.7V972.3M229.5,868.6V934.9M230.5,808.4V946.3M230.5,866.2V940.0M231.5,867.8V945.8M231.5,869.1V938.3M232.5,865.1V944.9M232.5,832.6V940.4M233.5,853.9V946.8M233.5,870.7V945.4M234.5,854.1V990.7M235.5,873.3V963.3M235.5,868.8V946.6M236.5,837.8V960.6M236.5,866.4V955.4M237.5,860.7V948.6M237.5,873.5V937.2M238.5,851.0V944.9M238.5,863.2V936.4M239.5,874.4V957.1M239.5,863.1V962.0M240.5,869.9V951.2M241.5,854.8V947.5M241.5,868.4V952.3M242.5,846.4V936.7M242.5,869.8V933.9M243.5,859.6V935.0M243.5,862.9V942.8M244.5,855.0V951.7M244.5,866.9V932.7M245.5,858.2V942.8M246.5,863.9V941.5M246.5,854.5V939.5M247.5,855.5V944.7M247.5,857.6V938.0M248.5,861.7V962.2M248.5,871.6V957.8M249.5,866.3V937.1M249.5,861.9V950.5M250.5,872.3V963.3M250.5,838.8V951.0M251.5,868.9V935.2M252.5,862.2V944.3M252.5,860.7V939.4M253.5,858.7V946.5M253.5,833.4V931.4M254.5,873.3V959.0M254.5,859.9V932.3M255.5,865.0V940.2M255.5,869.7V953.1M256.5,863.6V948.0M257.5,873.0V956.8M257.5,859.7V941.8M258.5,846.4V957.8M258.5,874.3V931.8M259.5,862.6V931.5M259.5,869.6V930.7M260.5,857.8V937.3M260.5,851.2V937.9M261.5,852.9V949.7M261.5,855.8V993.5M262.5,870.7V961.6M263.5,857.8V978.9M263.5,833.1V948.9M264.5,852.2V942.8M264.5,874.5V944.7M265.5,872.4V939.8M265.5,859.2V996.0M266.5,855.4V970.7M266.5,871.8V982.7M267.5,859.2V933.3M268.5,847.9V942.8M268.5,858.9V937.5M269.5,870.7V944.1M269.5,861.3V931.5M270.5,853.9V931.2M270.5,866.3V961.2M271.5,873.5V954.8M271.5,856.5V954.2M272.5,869.6V949.0M272.5,861.2V946.3M273.5,829.1V946.9M274.5,869.0V933.1M274.5,859.1V933.3M275.5,846.0V941.0M275.5,854.0V931.0M276.5,868.4V933.0M276.5,862.5V933.0M277.5,874.2V944.2M277.5,857.4V946.5M278.5,862.5V943.7M279.5,871.4V934.6M279.5,870.1V930.4M280.5,871.7V933.8M280.5,870.9V954.6M281.5,867.4V932.9M281.5,869.9V933.8M282.5,854.7V948.3M282.5,870.3V937.7M283.5,874.6V931.1M283.5,860.1V941.8M284.5,871.6V973.8M285.5,870.9V936.0M285.5,869.0V939.2M286.5,868.1V948.3M286.5,867.0V941.4M287.5,858.2V943.6M287.5,868.3V963.7M288.5,874.0V947.1M288.5,859.0V948.9M289.5,873.1V946.4M290.5,862.9V950.0M290.5,857.7V947.2M291.5,862.7V938.9M291.5,871.4V948.3M292.5,871.6V940.9M292.5,859.6V943.2M293.5,874.3V934.3M293.5,859.8V943.7M294.5,867.5V931.9M294.5,868.3V931.9M295.5,863.0V935.6M296.5,864.9V935.5M296.5,858.0V947.5M297.5,867.5V950.7M297.5,858.1V937.7M298.5,857.8V939.7M298.5,874.2V950.5M299.5,867.6V939.2M299.5,830.1V967.8M300.5,860.0V940.6M301.5,861.9V954.1M301.5,874.7V947.1M302.5,855.1V951.5M302.5,862.8V946.2M303.5,872.0V946.1M303.5,860.2V939.1M304.5,859.6V978.5M304.5,870.0V946.2M305.5,855.9V937.5M305.5,861.7V936.1M306.5,853.2V931.0M307.5,874.9V932.9M307.5,870.8V939.0M308.5,867.4V932.6M308.5,844.5V954.4M309.5,863.1V950.0M309.5,862.2V936.3M310.5,852.5V947.5M310.5,863.2V935.4M311.5,872.3V931.2M312.5,858.1V935.2M312.5,871.3V930.7M313.5,853.0V954.2M313.5,807.8V950.3M314.5,842.4V945.2M314.5,860.0V940.9M315.5,866.8V957.9M315.5,842.0V941.2M316.5,860.4V988.4M316.5,867.3V942.6M317.5,844.8V957.9M318.5,848.7V944.4M318.5,854.9V941.2M319.5,871.2V943.0M319.5,849.6V939.4M320.5,861.9V948.8M320.5,864.8V1013.8M321.5,862.3V938.2M321.5,862.5V931.4M322.5,873.3V931.0M323.5,856.4V951.7M323.5,864.1V947.6M324.5,867.1V939.3M324.5,846.2V935.2M325.5,851.4V932.4M325.5,858.4V932.9M326.5,861.2V937.6M326.5,874.1V933.5M327.5,871.4V939.8M327.5,871.6V954.6M328.5,864.4V943.0M329.5,867.5V943.9M329.5,866.4V936.9M330.5,865.6V959.5M330.5,856.2V965.2M331.5,865.3V933.3M331.5,862.5V942.4M332.5,859.1V955.4M332.5,867.8V938.7M333.5,871.0V936.1M334.5,860.4V966.7M334.5,853.8V949.3M335.5,855.1V942.6M335.5,857.4V934.4M336.5,868.2V950.4M336.5,851.9V954.0M337.5,865.3V953.1M337.5,855.4V953.1M338.5,850.3V952.8M338.5,874.5V959.3M339.5,867.2V946.6M340.5,874.1V955.3M340.5,847.6V934.3M341.5,853.3V954.0M341.5,874.8V932.9M342.5,861.3V952.2M342.5,842.7V933.4M343.5,855.3V961.9M343.5,872.9V939.2M344.5,852.3V944.8M345.5,818.1V940.5M345.5,839.2V946.6M346.5,849.0V960.3M346.5,844.4V943.4M347.5,844.4V955.4M347.5,853.6V945.0M348.5,834.4V945.2M348.5,832.5V952.0M349.5,856.4V954.3M349.5,858.6V955.0M350.5,846.5V960.2M351.5,826.2V957.4M351.5,817.9V942.6M352.5,840.0V961.8M352.5,832.1V956.5M353.5,847.8V960.5M353.5,835.9V944.2M354.5,849.6V966.4M354.5,859.0V953.7M355.5,846.3V978.9M356.5,850.7V954.2M356.5,849.4V949.9M357.5,837.6V1013.8M357.5,829.7V940.5M358.5,829.8V959.9M358.5,852.6V967.0M359.5,831.6V940.0M359.5,833.7V970.0M360.5,852.5V955.6M360.5,829.5V955.5M361.5,835.4V952.3M362.5,830.8V948.1M362.5,850.1V968.3M363.5,824.7V945.0M363.5,835.5V960.7M364.5,816.9V953.5M364.5,840.0V952.8M365.5,840.9V966.5M365.5,827.3V940.6M366.5,831.8V944.6M367.5,849.8V964.2M367.5,846.4V959.2M368.5,852.7V980.0M368.5,839.8V951.3M369.5,833.7V942.3M369.5,840.7V948.3M370.5,848.0V946.7M370.5,848.4V959.1M371.5,854.4V958.6M371.5,851.2V966.4M372.5,849.7V949.9M373.5,853.0V954.3M373.5,837.9V952.1M374.5,840.3V954.8M374.5,830.4V964.3M375.5,847.5V960.4M375.5,839.8V947.9M376.5,816.9V941.3M376.5,826.0V951.1M377.5,819.1V955.4M378.5,832.9V976.9M378.5,842.4V945.8M379.5,846.7V958.2M379.5,849.7V976.2M380.5,850.7V969.8M380.5,842.1V1010.8M381.5,840.8V950.5M381.5,834.4V940.2M382.5,822.5V944.3M382.5,842.4V963.1M383.5,856.9V958.0M384.5,841.3V956.4M384.5,834.2V941.7M385.5,846.4V943.8M385.5,838.6V957.4M386.5,838.3V940.4M386.5,839.7V961.6M387.5,854.7V964.1M387.5,844.5V965.9M388.5,849.5V951.3M389.5,855.2V964.6M389.5,834.6V940.1M390.5,841.2V972.0M390.5,835.8V946.7M391.5,852.9V945.2M391.5,848.3V957.5M392.5,797.8V944.4M392.5,844.5V952.6M393.5,847.1V947.1M393.5,833.5V956.6M394.5,824.6V947.4M395.5,838.8V961.0M395.5,832.2V957.5M396.5,839.4V942.3M396.5,842.3V947.5M397.5,840.1V961.9M397.5,856.4V942.4M398.5,830.2V980.9M398.5,840.4V974.6M399.5,840.9V958.0M400.5,821.7V944.3M400.5,846.7V949.5M401.5,848.8V960.7M401.5,845.6V958.9M402.5,845.2V957.4M402.5,853.0V940.8M403.5,841.7V961.8M403.5,853.6V953.8M404.5,823.5V942.5M404.5,847.4V941.9M405.5,855.5V963.7M406.5,846.4V947.6M406.5,845.6V946.8M407.5,816.8V967.2M407.5,851.6V951.5M408.5,845.1V943.2M408.5,847.4V942.3M409.5,840.8V966.6M409.5,836.1V948.5M410.5,839.5V940.5M411.5,855.8V941.6M411.5,843.5V959.9M412.5,822.4V965.2M412.5,823.0V982.5M413.5,829.4V964.6M413.5,856.9V944.8M414.5,850.8V960.1M414.5,840.8V958.2M415.5,847.4V946.2M415.5,832.8V941.4M416.5,817.1V964.7M417.5,837.1V945.5M417.5,851.0V957.2M418.5,847.7V942.6M418.5,845.4V943.8M419.5,825.4V957.0M419.5,838.9V945.0M420.5,837.9V946.0M420.5,844.0V959.1M421.5,845.1V962.2M422.5,851.1V980.6M422.5,839.1V952.4M423.5,866.2V932.5M423.5,865.4V959.6M424.5,870.5V947.6M424.5,856.0V946.5M425.5,872.3V940.1M425.5,854.0V942.2M426.5,846.7V932.3M426.5,849.9V960.6M427.5,850.4V965.4M428.5,870.3V937.0M428.5,863.4V933.2M429.5,872.3V949.1M429.5,860.8V933.6M430.5,872.1V939.4M430.5,855.8V961.5M431.5,863.7V942.7M431.5,860.4V949.8M432.5,870.2V947.4M433.5,864.6V936.2M433.5,853.2V976.8M434.5,862.2V934.4M434.5,870.7V943.6M435.5,858.5V949.9M435.5,851.9V952.0M436.5,870.9V938.4M436.5,864.5V936.9M437.5,874.4V945.6M437.5,870.9V947.8M438.5,864.0V939.5M439.5,868.6V942.8M439.5,863.2V944.0M440.5,866.9V959.0M440.5,843.1V963.7M441.5,861.2V950.5M441.5,860.9V954.7M442.5,859.6V975.8M442.5,867.1V940.1M443.5,868.6V930.4M444.5,847.9V933.1M444.5,866.5V935.9M445.5,859.8V983.2M445.5,857.7V976.7M446.5,839.2V940.4M446.5,871.1V941.6M447.5,859.1V939.3M447.5,866.7V941.9M448.5,823.2V930.3M448.5,841.7V949.8M449.5,852.2V931.1M450.5,859.6V948.4M450.5,853.5V950.7M451.5,868.8V950.0M451.5,863.7V934.2M452.5,871.9V932.4M452.5,871.1V946.5M453.5,859.4V956.5M453.5,873.9V930.6M454.5,869.2V933.2M455.5,852.0V940.7M455.5,860.4V938.1M456.5,857.6V957.4M456.5,870.4V943.7M457.5,870.1V933.3M457.5,873.9V945.2M458.5,860.6V934.9M458.5,859.3V938.4M459.5,862.9V938.3M459.5,874.0V938.2M460.5,860.7V951.4M461.5,867.3V964.0M461.5,861.6V935.2M462.5,865.0V942.6M462.5,867.1V938.4M463.5,852.7V933.4M463.5,845.4V931.9M464.5,868.7V942.7M464.5,870.8V930.6M465.5,859.4V931.2M466.5,858.4V930.4M466.5,867.9V947.5M467.5,868.0V939.3M467.5,866.5V931.0M468.5,863.1V962.4M468.5,871.8V939.9M469.5,869.6V944.8M469.5,871.9V943.0M470.5,854.2V935.8M470.5,846.1V933.3M471.5,872.6V956.1M472.5,860.9V930.8M472.5,844.2V944.6M473.5,852.3V944.0M473.5,861.5V940.1M474.5,858.9V954.0M474.5,821.2V953.9M475.5,873.6V945.5M475.5,869.3V965.7M476.5,857.0V953.2M477.5,856.2V947.8M477.5,861.1V949.3M478.5,849.5V944.7M478.5,852.4V931.8M479.5,861.5V940.2M479.5,853.4V967.5M480.5,871.4V946.4M480.5,873.7V959.1M481.5,870.4V932.2M481.5,871.7V930.5M482.5,871.0V951.4M483.5,869.0V956.1M483.5,848.8V943.2M484.5,842.5V944.6M484.5,866.2V933.6M485.5,858.9V938.2M485.5,860.6V934.5M486.5,858.5V932.2M486.5,868.7V945.9M487.5,870.0V938.1M488.5,870.2V953.1M488.5,862.7V945.1M489.5,868.7V964.8M489.5,857.4V974.3M490.5,836.4V932.0M490.5,873.9V937.0M491.5,866.6V968.2M491.5,858.7V952.5M492.5,864.4V966.5M492.5,862.9V930.5M493.5,863.5V949.0M494.5,862.9V951.3M494.5,873.1V961.8M495.5,862.5V936.6M495.5,850.0V956.5M496.5,849.9V950.7M496.5,860.9V934.7M497.5,862.1V961.6M497.5,857.3V956.2M498.5,855.1V966.4M499.5,852.5V932.6M499.5,859.0V948.1M500.5,871.2V953.3M500.5,864.2V931.9M501.5,843.0V948.6M501.5,848.3V943.4M502.5,864.6V938.1M502.5,855.1V937.6M503.5,814.7V949.1M503.5,861.3V952.9M504.5,867.9V942.4M505.5,850.1V950.7M505.5,869.3V936.6M506.5,847.3V943.9M506.5,872.7V933.5M507.5,874.2V973.4M507.5,874.5V958.4M508.5,866.0V942.4M508.5,871.3V946.2M509.5,870.5V932.0M510.5,858.6V939.5M510.5,852.5V943.6M511.5,873.2V941.4M511.5,866.0V964.8M512.5,839.8V942.5M512.5,857.6V945.3M513.5,861.6V939.9M513.5,861.7V936.4M514.5,846.9V948.9M514.5,866.0V958.6M515.5,870.3V970.8M516.5,839.4V961.3M516.5,840.7V931.7M517.5,859.8V948.5M517.5,857.5V939.0M518.5,861.6V935.1M518.5,859.1V954.9M519.5,866.3V962.6M519.5,871.8V931.5M520.5,859.4V937.7M521.5,865.2V943.0M521.5,872.5V930.2M522.5,869.8V961.6M522.5,855.1V950.4M523.5,870.3V952.5M523.5,873.6V938.6M524.5,843.3V940.7M524.5,873.7V950.8M525.5,833.0V943.3M525.5,813.2V957.0M526.5,864.2V950.7M527.5,857.6V947.4M527.5,874.1V940.4M528.5,843.8V948.4M528.5,830.4V944.5M529.5,868.3V947.4M529.5,863.6V942.0M530.5,839.2V930.2M530.5,844.2V931.0M531.5,853.4V934.2M532.5,853.8V955.8M532.5,870.6V930.4M533.5,855.7V942.1M533.5,874.2V932.5M534.5,869.9V957.6M534.5,874.0V955.0M535.5,865.6V942.7M535.5,860.4V939.6M536.5,840.1V959.2M536.5,851.7V974.9M537.5,831.8V976.5M538.5,854.6V943.6M538.5,859.8V954.2M539.5,859.3V965.0M539.5,852.8V947.9M540.5,869.2V959.6M540.5,859.8V964.4M146.5,760.0V902.5M169.5,780.0V902.5M219.5,794.0V902.5M242.5,782.5V902.5M264.5,715.0V902.5M274.5,796.0V902.5M298.5,729.0V902.5M320.5,780.0V902.5M325.5,777.5V902.5M332.5,777.5V902.5M332.5,778.0V902.5M339.5,808.7V902.5M346.5,731.7V902.5M352.5,806.9V902.5M356.5,771.6V902.5M362.5,798.8V902.5M367.5,800.6V902.5M370.5,797.9V902.5M376.5,784.3V902.5M380.5,754.0V902.5M385.5,806.9V902.5M389.5,804.2V902.5M393.5,792.1V902.5M397.5,786.6V902.5M401.5,804.2V902.5M406.5,792.4V902.5M412.5,791.5V902.5M413.5,781.6V902.5M417.5,817.8V902.5M430.5,776.1V902.5M436.5,761.3V902.5M440.5,795.1V902.5M446.5,792.4V902.5M456.5,758.9V902.5M464.5,810.5V902.5M473.5,804.2V902.5M502.5,797.0V902.5M517.5,783.0V902.5M526.5,781.6V902.5M535.5,830.5V902.5M160.5,818.0V902.5M185.5,820.0V902.5M196.5,815.0V902.5M205.5,812.0V902.5M228.5,822.0V902.5M252.5,816.0V902.5M281.5,814.0V902.5M290.5,812.0V902.5M308.5,815.0V902.5M318.5,806.0V902.5M494.5,812.0V902.5M488.5,818.0V902.5M508.5,813.0V902.5M169.5,902.5V1175.0M176.5,902.5V1005.0M298.5,902.5V1005.0M318.5,902.5V1037.5M264.5,902.5V1002.0M312.5,902.5V994.0M336.5,902.5V992.3M155.5,902.5V985.0M190.5,902.5V990.0M230.5,902.5V992.0M247.5,902.5V988.0M343.5,902.5V1089.5M346.5,902.5V1178.3M352.5,902.5V1184.6M356.5,902.5V1145.7M361.5,902.5V1096.7M367.5,902.5V1150.2M369.5,902.5V1167.4M374.5,902.5V1129.3M377.5,902.5V1100.4M380.5,902.5V1071.4M385.5,902.5V1129.3M389.5,902.5V1098.5M392.5,902.5V1170.1M397.5,902.5V1114.8M401.5,902.5V1139.3M405.5,902.5V1121.2M408.5,902.5V1135.7M413.5,902.5V1100.4M417.5,902.5V1121.2M421.5,902.5V1120.3M425.5,902.5V1136.6M430.5,902.5V1133.0M435.5,902.5V1116.7M439.5,902.5V1200.0M445.5,902.5V1187.3M451.5,902.5V1085.9M456.5,902.5V1136.6M466.5,902.5V1013.4M473.5,902.5V1063.2M502.5,902.5V1004.3M507.5,902.5V1166.5M516.5,902.5V1053.2M525.5,902.5V1000.7M537.5,902.5V978.9M483.5,902.5V995.0M494.5,902.5V990.0M530.5,902.5V985.0" stroke="#000" stroke-width="1.1" fill="none"/>
<line x1="146" y1="772.5" x2="146" y2="1201.7" stroke="#1a1a1a" stroke-width="3.5"/>
<line x1="144.5" y1="1220" x2="543" y2="1220" stroke="#1a1a1a" stroke-width="3.5"/>
<line x1="131" y1="807.26" x2="146" y2="807.26" stroke="#1a1a1a" stroke-width="3.5"/>
<line x1="131" y1="854.88" x2="146" y2="854.88" stroke="#1a1a1a" stroke-width="3.5"/>
<line x1="131" y1="902.5" x2="146" y2="902.5" stroke="#1a1a1a" stroke-width="3.5"/>
<line x1="131" y1="950.12" x2="146" y2="950.12" stroke="#1a1a1a" stroke-width="3.5"/>
<line x1="131" y1="997.74" x2="146" y2="997.74" stroke="#1a1a1a" stroke-width="3.5"/>
<line x1="131" y1="1045.36" x2="146" y2="1045.36" stroke="#1a1a1a" stroke-width="3.5"/>
<line x1="131" y1="1092.98" x2="146" y2="1092.98" stroke="#1a1a1a" stroke-width="3.5"/>
<line x1="131" y1="1140.6" x2="146" y2="1140.6" stroke="#1a1a1a" stroke-width="3.5"/>
<line x1="131" y1="1188.22" x2="146" y2="1188.22" stroke="#1a1a1a" stroke-width="3.5"/>
<line x1="146" y1="1213" x2="146" y2="1237.3" stroke="#1a1a1a" stroke-width="3.5"/>
<line x1="343.75" y1="1213" x2="343.75" y2="1237.3" stroke="#1a1a1a" stroke-width="3.5"/>
<line x1="541.5" y1="1213" x2="541.5" y2="1237.3" stroke="#1a1a1a" stroke-width="3.5"/>
<clipPath id="cpd"><rect x="771" y="600" width="430" height="616.5"/></clipPath>
<g clip-path="url(#cpd)">
<path d="M771.5,1173.96 L772.4,1174.2 L776.9,1034.5 L780.3,1137.6 L781.8,1099.62 L785.8,1195.9 L792.2,1019.7 L796.6,1061.64 L799.6,1171.2 L802.1,1128.46 L806.5,1174.2 L808.5,1098.8 L812.9,1156.4 L816.9,1093.48 L821.3,1145.5 L825.3,1026.32 L828.8,1087.72 L831.7,1146.5 L834.2,1044.4 L838.1,1190 L842.6,1052.3 L848,1205.8 L850.5,1112.16 L853,1162.3 L855.4,1075.26 L858.9,1154.4 L861.4,1097.6 L863.3,1158.4 L865.8,1142.14 L868.8,1152.14 L873.9,1187.6 L877.9,1051.7 L881.9,1144.1 L884.3,1030.22 L889.2,1087.7 L893.2,1103.9 L897.2,1001.8 L901.2,1100.6 L905.3,905.9 L909.3,1078.1 L913.3,1065.2 L919.8,941.3 L924.6,1030.6 L926.2,889 L930.2,1030.6 L934.3,906.7 L938.8,1054.7 L940.7,879.3 L943.1,978.2 L945.3,836.8 L951.6,1115.2 L955.8,912.9 L958.6,996.9 L962.2,884.4 L968.5,1001.1 L973.8,903.7 L977,888.48 L980.8,1018 L984.8,776.6 L991.1,992.7 L995.4,799.9 L1001.7,1017 L1003.4,901.3 L1006.6,1001.1 L1008,772.4 L1012.9,972.6 L1016.1,887.58 L1020.7,998 L1024.9,769.2 L1030.9,1008.5 L1035.5,852.7 L1041.4,958.9 L1044,841.1 L1049.9,1032.8 L1055.8,711.1 L1058.3,942 L1062.5,868.18 L1065.1,977.9 L1068.9,900.72 L1073.1,964.1 L1075.2,737.5 L1078.4,887 L1080.1,832.8 L1083.5,1118.2 L1087.8,899.5 L1092.1,1068.6 L1096.4,888.4 L1098.9,897 L1104.4,1075.4 L1108.9,902.9 L1111.8,933.34 L1112.6,1056.6 L1115.2,1062.6 L1119.5,923.5 L1123.7,1104.5 L1125.4,948.2 L1129.7,1054.9 L1132.3,943.1 L1134.8,1087.4 L1140,1142.1 L1144.3,1020.36 L1146.8,1086.5 L1151.1,1006.76 L1154.5,1084.8 L1161.4,958.5 L1167.3,1106.2 L1169.9,970.5 L1174.2,1132.7 L1180.2,1026.9 L1182.4,1137 L1184.4,1081.36 L1188.7,1115.6 L1191.3,1092.08 L1191.3,1120 L1188.7,1147.8 L1184.4,1118.2 L1182.4,1185.98 L1180.2,1078.9 L1174.2,1184.7 L1169.9,1022.5 L1167.3,1158.2 L1161.4,1010.5 L1154.5,1136.8 L1151.1,1053.3 L1146.8,1129.8 L1144.3,1071.2 L1140,1194.1 L1134.8,1123.72 L1132.3,995.1 L1129.7,1106.9 L1125.4,1000.2 L1123.7,1156.5 L1119.5,975.5 L1115.2,1110.02 L1112.6,1100.6 L1111.8,974.6 L1108.9,954.9 L1104.4,1127.4 L1098.9,949 L1096.4,940.4 L1092.1,1120.6 L1087.8,951.5 L1083.5,1170.2 L1080.1,884.8 L1078.4,939 L1075.2,789.5 L1073.1,1016.1 L1068.9,944.8 L1065.1,1029.9 L1062.5,918.4 L1058.3,994 L1055.8,763.1 L1049.9,1084.8 L1044,893.1 L1041.4,1010.9 L1035.5,904.7 L1030.9,1060.5 L1024.9,821.2 L1020.7,1050 L1016.1,939.5 L1012.9,1024.6 L1008,824.4 L1006.6,1053.1 L1003.4,953.3 L1001.7,1069 L995.4,851.9 L991.1,1044.7 L984.8,828.6 L980.8,1070 L977,935.3 L973.8,942.7 L968.5,1053.1 L962.2,936.4 L958.6,1048.9 L955.8,964.9 L951.6,1167.2 L945.3,888.8 L943.1,1030.2 L940.7,931.3 L938.8,1106.7 L934.3,958.7 L930.2,1082.6 L926.2,941 L924.6,1082.6 L919.8,993.3 L913.3,1105.8 L909.3,1130.1 L905.3,957.9 L901.2,1152.6 L897.2,1053.8 L893.2,1145.96 L889.2,1115.06 L884.3,1078.7 L881.9,1196.1 L877.9,1103.7 L873.9,1239.42 L868.8,1180.4 L865.8,1170.5 L863.3,1193.58 L861.4,1138.4 L858.9,1197.48 L855.4,1123 L853,1204.88 L850.5,1156.7 L848,1257.8 L842.6,1104.3 L838.1,1242 L834.2,1096.4 L831.7,1196.4 L828.8,1115.1 L825.3,1076.6 L821.3,1195.2 L816.9,1133.9 L812.9,1197.42 L808.5,1141.8 L806.5,1216.1 L802.1,1165.1 L799.6,1220.4 L796.6,1099.3 L792.2,1071.7 L785.8,1247.9 L781.8,1142.8 L780.3,1180.38 L776.9,1086.5 L772.4,1220.58 L771.5,1198Z" fill="#c8c8c8" stroke="none"/>
</g>
<path d="M771.5,1186 L772.4,1186.2 L776.9,1074.5 L780.3,1149.6 L781.8,1130.8 L785.8,1207.9 L792.2,1059.7 L796.6,1087.3 L799.6,1183.2 L802.1,1153.1 L806.5,1186.2 L808.5,1129.8 L812.9,1168.4 L816.9,1121.9 L821.3,1157.5 L825.3,1064.6 L828.8,1103.1 L831.7,1158.5 L834.2,1084.4 L838.1,1202 L842.6,1092.3 L848,1217.8 L850.5,1144.7 L853,1174.3 L855.4,1111 L858.9,1166.4 L861.4,1126.4 L863.3,1170.4 L865.8,1158.5 L868.8,1168.4 L873.9,1199.6 L877.9,1091.7 L881.9,1156.1 L884.3,1066.7 L889.2,1099.7 L893.2,1115.9 L897.2,1041.8 L901.2,1112.6 L905.3,945.9 L909.3,1090.1 L913.3,1077.2 L919.8,981.3 L924.6,1042.6 L926.2,929 L930.2,1042.6 L934.3,946.7 L938.8,1066.7 L940.7,919.3 L943.1,990.2 L945.3,876.8 L951.6,1127.2 L955.8,952.9 L958.6,1008.9 L962.2,924.4 L968.5,1013.1 L973.8,930.7 L977,923.3 L980.8,1030 L984.8,816.6 L991.1,1004.7 L995.4,839.9 L1001.7,1029 L1003.4,941.3 L1006.6,1013.1 L1008,812.4 L1012.9,984.6 L1016.1,927.5 L1020.7,1010 L1024.9,809.2 L1030.9,1020.5 L1035.5,892.7 L1041.4,970.9 L1044,881.1 L1049.9,1044.8 L1055.8,751.1 L1058.3,954 L1062.5,906.4 L1065.1,989.9 L1068.9,932.8 L1073.1,976.1 L1075.2,777.5 L1078.4,899 L1080.1,872.8 L1083.5,1130.2 L1087.8,939.5 L1092.1,1080.6 L1096.4,928.4 L1098.9,937 L1104.4,1087.4 L1108.9,942.9 L1111.8,962.6 L1112.6,1068.6 L1115.2,1074.6 L1119.5,963.5 L1123.7,1116.5 L1125.4,988.2 L1129.7,1066.9 L1132.3,983.1 L1134.8,1099.4 L1140,1154.1 L1144.3,1059.2 L1146.8,1098.5 L1151.1,1041.3 L1154.5,1096.8 L1161.4,998.5 L1167.3,1118.2 L1169.9,1010.5 L1174.2,1144.7 L1180.2,1066.9 L1182.4,1149 L1184.4,1106.2 L1188.7,1127.6 L1191.3,1108" fill="none" stroke="#000" stroke-width="4.2" stroke-linejoin="round"/>
<rect x="869.7" y="684.6" width="209.1" height="531.9" fill="#e84c4c" fill-opacity="0.5"/>
<line x1="771" y1="682.7" x2="771" y2="1218.3" stroke="#1a1a1a" stroke-width="3.5"/>
<line x1="759" y1="1216.8" x2="1192" y2="1216.8" stroke="#1a1a1a" stroke-width="3.5"/>
<line x1="759.1" y1="1216" x2="771" y2="1216" stroke="#1a1a1a" stroke-width="3.5"/>
<line x1="759.1" y1="1132.4" x2="771" y2="1132.4" stroke="#1a1a1a" stroke-width="3.5"/>
<line x1="759.1" y1="1048.8" x2="771" y2="1048.8" stroke="#1a1a1a" stroke-width="3.5"/>
<line x1="759.1" y1="965.2" x2="771" y2="965.2" stroke="#1a1a1a" stroke-width="3.5"/>
<line x1="759.1" y1="881.6" x2="771" y2="881.6" stroke="#1a1a1a" stroke-width="3.5"/>
<line x1="759.1" y1="798" x2="771" y2="798" stroke="#1a1a1a" stroke-width="3.5"/>
<line x1="759.1" y1="714.4" x2="771" y2="714.4" stroke="#1a1a1a" stroke-width="3.5"/>
<line x1="869.5" y1="1216.8" x2="869.5" y2="1226.8" stroke="#1a1a1a" stroke-width="3.5"/>
<line x1="974.17" y1="1216.8" x2="974.17" y2="1226.8" stroke="#1a1a1a" stroke-width="3.5"/>
<line x1="1078.85" y1="1216.8" x2="1078.85" y2="1226.8" stroke="#1a1a1a" stroke-width="3.5"/>
<path d="M103.8,1628.4 L104.17,1628.35 L104.53,1628.31 L104.89,1628.26 L105.26,1628.21 L105.63,1628.13 L106,1628 L106.49,1627.76 L107.01,1627.45 L107.53,1627.09 L108.04,1626.71 L108.54,1626.34 L109,1626 L109.36,1625.71 L109.7,1625.39 L110.02,1625.08 L110.34,1624.8 L110.67,1624.6 L111,1624.5 L111.33,1624.56 L111.67,1624.76 L112.01,1625.02 L112.34,1625.27 L112.68,1625.46 L113,1625.5 L113.35,1625.31 L113.69,1624.93 L114.02,1624.46 L114.34,1623.99 L114.67,1623.64 L115,1623.5 L115.33,1623.65 L115.67,1624.03 L116.01,1624.51 L116.34,1625 L116.67,1625.36 L117,1625.5 L117.34,1625.31 L117.67,1624.86 L117.99,1624.27 L118.32,1623.68 L118.65,1623.21 L119,1623 L119.32,1623.09 L119.66,1623.37 L120,1623.75 L120.34,1624.13 L120.68,1624.41 L121,1624.5 L121.35,1624.28 L121.69,1623.81 L122.02,1623.21 L122.35,1622.62 L122.68,1622.17 L123,1622 L123.34,1622.23 L123.68,1622.8 L124.01,1623.52 L124.35,1624.24 L124.67,1624.79 L125,1625 L125.32,1624.76 L125.62,1624.16 L125.92,1623.37 L126.23,1622.56 L126.58,1621.88 L127,1621.5 L127.42,1621.45 L127.88,1621.58 L128.37,1621.81 L128.89,1622.09 L129.44,1622.34 L130,1622.5 L130.75,1622.59 L131.57,1622.62 L132.42,1622.62 L133.28,1622.59 L134.15,1622.55 L135,1622.5 L135.83,1622.43 L136.67,1622.33 L137.5,1622.22 L138.33,1622.11 L139.17,1622.03 L140,1622 L140.83,1622.03 L141.67,1622.11 L142.5,1622.22 L143.33,1622.33 L144.17,1622.43 L145,1622.5 L145.85,1622.51 L146.72,1622.49 L147.58,1622.44 L148.43,1622.41 L149.25,1622.42 L150,1622.5 L150.55,1622.64 L151.05,1622.85 L151.53,1623.08 L152,1623.29 L152.49,1623.45 L153,1623.5 L153.64,1623.39 L154.31,1623.13 L155,1622.79 L155.68,1622.44 L156.35,1622.15 L157,1622 L157.51,1621.99 L158,1622.06 L158.47,1622.18 L158.95,1622.31 L159.46,1622.42 L160,1622.5 L160.76,1622.54 L161.57,1622.53 L162.42,1622.51 L163.29,1622.49 L164.15,1622.48 L165,1622.5 L165.83,1622.56 L166.67,1622.65 L167.5,1622.75 L168.33,1622.85 L169.17,1622.94 L170,1623 L170.83,1623.02 L171.67,1623.02 L172.5,1623 L173.33,1622.98 L174.17,1622.98 L175,1623 L175.83,1623.07 L176.67,1623.17 L177.5,1623.28 L178.33,1623.39 L179.17,1623.47 L180,1623.5 L180.87,1623.51 L181.77,1623.53 L182.68,1623.52 L183.54,1623.45 L184.33,1623.29 L185,1623 L185.45,1622.57 L185.82,1621.95 L186.13,1621.27 L186.41,1620.64 L186.69,1620.18 L187,1620 L187.31,1620.18 L187.58,1620.65 L187.86,1621.29 L188.16,1621.97 L188.53,1622.58 L189,1623 L189.78,1623.25 L190.73,1623.32 L191.79,1623.27 L192.9,1623.16 L193.99,1623.05 L195,1623 L195.86,1623 L196.7,1623 L197.53,1623 L198.35,1623 L199.17,1623 L200,1623 L200.83,1623 L201.67,1623 L202.5,1623 L203.33,1623 L204.17,1623 L205,1623 L205.83,1623 L206.67,1623 L207.5,1623 L208.33,1623 L209.17,1623 L210,1623 L210.83,1623 L211.67,1623 L212.5,1623 L213.33,1623 L214.17,1623 L215,1623 L215.83,1623 L216.67,1623 L217.5,1623 L218.33,1623 L219.17,1623 L220,1623 L220.83,1623 L221.67,1623 L222.5,1623 L223.33,1623 L224.17,1623 L225,1623 L225.83,1623.01 L226.67,1623.02 L227.5,1623.03 L228.33,1623.04 L229.17,1623.03 L230,1623 L230.87,1622.98 L231.77,1622.98 L232.67,1622.96 L233.54,1622.9 L234.33,1622.76 L235,1622.5 L235.44,1622.13 L235.8,1621.62 L236.11,1621.05 L236.4,1620.53 L236.69,1620.15 L237,1620 L237.31,1620.15 L237.59,1620.53 L237.87,1621.05 L238.18,1621.61 L238.55,1622.13 L239,1622.5 L239.79,1622.79 L240.74,1622.96 L241.8,1623.03 L242.9,1623.04 L243.99,1623.02 L245,1623 L245.89,1623.01 L246.81,1623.04 L247.71,1623.05 L248.57,1622.99 L249.34,1622.82 L250,1622.5 L250.48,1621.95 L250.83,1621.15 L251.11,1620.25 L251.36,1619.41 L251.64,1618.78 L252,1618.5 L252.42,1618.68 L252.86,1619.21 L253.33,1619.96 L253.83,1620.77 L254.39,1621.5 L255,1622 L255.73,1622.31 L256.56,1622.52 L257.44,1622.65 L258.33,1622.68 L259.2,1622.64 L260,1622.5 L260.72,1622.19 L261.42,1621.7 L262.09,1621.11 L262.74,1620.56 L263.38,1620.16 L264,1620 L264.51,1620.12 L264.99,1620.43 L265.46,1620.85 L265.93,1621.3 L266.44,1621.71 L267,1622 L267.75,1622.21 L268.57,1622.36 L269.44,1622.45 L270.32,1622.49 L271.18,1622.5 L272,1622.5 L272.69,1622.46 L273.37,1622.38 L274.03,1622.27 L274.68,1622.16 L275.34,1622.06 L276,1622 L276.67,1622 L277.35,1622.06 L278.02,1622.13 L278.7,1622.17 L279.36,1622.14 L280,1622 L280.69,1621.65 L281.35,1621.12 L282,1620.5 L282.65,1619.88 L283.31,1619.35 L284,1619 L284.64,1618.85 L285.3,1618.79 L285.98,1618.81 L286.65,1618.87 L287.33,1618.94 L288,1619 L288.68,1619.03 L289.37,1619.05 L290.06,1619.09 L290.74,1619.16 L291.39,1619.29 L292,1619.5 L292.56,1619.78 L293.09,1620.12 L293.6,1620.51 L294.08,1620.96 L294.55,1621.46 L295,1622 L295.56,1622.81 L296.09,1623.73 L296.59,1624.74 L297.06,1625.81 L297.53,1626.91 L298,1628 L298.52,1629.26 L299,1630.58 L299.48,1631.94 L299.96,1633.31 L300.46,1634.67 L301,1636 L301.58,1637.47 L302.18,1639.13 L302.8,1640.79 L303.44,1642.23 L304.08,1643.23 L304.71,1643.59 L305.5,1642.74 L306.27,1640.63 L307.05,1637.8 L307.85,1634.79 L308.71,1632.15 L309.65,1630.41 L310.17,1629.96 L310.7,1629.67 L311.25,1629.47 L311.81,1629.31 L312.38,1629.09 L312.95,1628.76 L313.76,1627.98 L314.6,1626.9 L315.45,1625.73 L316.29,1624.69 L317.11,1623.98 L317.89,1623.82 L319.1,1625.53 L320.12,1629.33 L321.06,1634.2 L322.03,1639.14 L323.13,1643.16 L324.48,1645.24 L325.25,1645.39 L326.08,1645.2 L326.94,1644.79 L327.8,1644.29 L328.64,1643.85 L329.42,1643.59 L330.01,1643.57 L330.58,1643.65 L331.13,1643.76 L331.67,1643.83 L332.2,1643.8 L332.72,1643.59 L333.59,1642.63 L334.36,1641.08 L335.1,1639.17 L335.85,1637.14 L336.69,1635.24 L337.66,1633.71 L338.64,1632.65 L339.71,1631.69 L340.85,1630.83 L342.01,1630.05 L343.15,1629.36 L344.25,1628.76 L345.11,1628.31 L345.97,1627.87 L346.83,1627.48 L347.67,1627.2 L348.46,1627.06 L349.19,1627.12 L349.83,1627.35 L350.41,1627.72 L350.96,1628.23 L351.48,1628.86 L351.99,1629.59 L352.49,1630.41 L353.4,1632.77 L354.17,1636.05 L354.88,1639.76 L355.61,1643.4 L356.43,1646.49 L357.43,1648.53 L357.95,1649.1 L358.51,1649.57 L359.08,1649.93 L359.66,1650.16 L360.21,1650.25 L360.72,1650.18 L361.36,1649.7 L361.91,1648.8 L362.42,1647.61 L362.92,1646.25 L363.44,1644.87 L364.02,1643.59 L364.77,1641.96 L365.56,1640.05 L366.38,1638.1 L367.23,1636.34 L368.09,1635.02 L368.96,1634.37 L369.5,1634.35 L370.06,1634.55 L370.62,1634.91 L371.18,1635.37 L371.73,1635.87 L372.26,1636.34 L372.84,1636.86 L373.41,1637.41 L373.96,1638 L374.5,1638.67 L375.03,1639.42 L375.55,1640.3 L376.43,1642.53 L377.26,1645.58 L378.07,1648.92 L378.86,1651.99 L379.67,1654.24 L380.49,1655.12 L381.27,1654.35 L382,1652.33 L382.75,1649.58 L383.54,1646.59 L384.42,1643.88 L385.44,1641.94 L386.22,1641.06 L387.1,1640.23 L388.02,1639.51 L388.92,1638.97 L389.72,1638.67 L390.38,1638.65 L390.77,1638.98 L391.07,1639.62 L391.32,1640.4 L391.55,1641.16 L391.77,1641.73 L392.03,1641.94 L392.46,1641.31 L392.92,1639.76 L393.37,1637.78 L393.82,1635.8 L394.25,1634.29 L394.66,1633.71 L395.24,1635.28 L395.75,1639.14 L396.22,1644.13 L396.68,1649.12 L397.14,1652.94 L397.63,1654.46 L398.44,1650.6 L399.28,1640.95 L400.13,1628.42 L400.98,1615.9 L401.79,1606.26 L402.57,1602.41 L403.08,1604.38 L403.49,1609.46 L403.89,1616.38 L404.36,1623.85 L404.98,1630.6 L405.86,1635.35 L406.4,1636.95 L407,1638.49 L407.63,1639.87 L408.28,1640.98 L408.91,1641.7 L409.49,1641.94 L410.07,1641.27 L410.6,1639.65 L411.11,1637.56 L411.62,1635.44 L412.17,1633.79 L412.78,1633.05 L413.25,1633.25 L413.75,1633.9 L414.27,1634.75 L414.78,1635.59 L415.28,1636.2 L415.75,1636.34 L417.65,1627.93 L419.05,1608.06 L420.07,1582.55 L420.87,1557.16 L421.58,1537.69 L422.34,1529.92 L422.89,1536.54 L423.07,1553.39 L423.17,1576.01 L423.45,1599.91 L424.18,1620.64 L425.63,1633.71 L426.27,1636.04 L426.99,1638.19 L427.75,1640.04 L428.51,1641.47 L429.25,1642.36 L429.92,1642.6 L431.85,1632.59 L433.22,1608.28 L434.2,1576.85 L434.96,1545.5 L435.67,1521.42 L436.51,1511.8 L437.31,1519.82 L437.9,1540.38 L438.45,1568.27 L439.11,1598.25 L440.06,1625.1 L441.45,1643.59 L442.19,1648.75 L443.02,1653.73 L443.89,1658.2 L444.77,1661.79 L445.62,1664.18 L446.39,1665.01 L447.86,1656.79 L449.09,1636.44 L450.14,1610.05 L451.1,1583.67 L452.02,1563.4 L452.98,1555.29 L453.83,1560.46 L454.62,1573.81 L455.38,1592.06 L456.16,1611.95 L456.99,1630.21 L457.92,1643.59 L458.45,1648.71 L458.99,1653.84 L459.55,1658.55 L460.12,1662.43 L460.68,1665.05 L461.22,1666 L462.75,1651.96 L464.24,1616.98 L465.69,1571.53 L467.06,1526.1 L468.32,1491.17 L469.46,1477.2 L470.23,1487.63 L470.71,1514.15 L471.11,1549.64 L471.62,1586.97 L472.43,1619.02 L473.74,1638.65 L474.2,1641.49 L474.7,1644.08 L475.21,1646.31 L475.74,1648.05 L476.24,1649.16 L476.71,1649.52 L478.04,1639.44 L479.08,1614.51 L479.9,1582.17 L480.59,1549.86 L481.26,1525.02 L481.98,1515.09 L482.62,1524.23 L483.11,1547.06 L483.58,1576.77 L484.13,1606.49 L484.87,1629.4 L485.93,1638.65 L486.28,1638.01 L486.66,1636.37 L487.05,1634.22 L487.45,1632.06 L487.85,1630.4 L488.24,1629.75 L488.85,1631.41 L489.47,1635.52 L490.09,1640.84 L490.7,1646.15 L491.3,1650.22 L491.86,1651.83 L493.3,1638.63 L494.55,1605.78 L495.66,1563.12 L496.65,1520.47 L497.57,1487.68 L498.45,1474.56 L499.12,1486.28 L499.5,1516.11 L499.8,1556.05 L500.24,1598.13 L501.04,1634.36 L502.41,1656.77 L502.91,1660.19 L503.45,1663.33 L504.03,1666.03 L504.61,1668.14 L505.17,1669.5 L505.7,1669.95 L507.53,1653.45 L509.04,1612.52 L510.29,1559.41 L511.36,1506.32 L512.33,1465.51 L513.28,1449.19 L513.87,1463.43 L513.98,1499.72 L513.99,1548.46 L514.28,1600.03 L515.23,1644.83 L517.23,1673.25 L518.11,1678.31 L519.11,1683.01 L520.17,1687.09 L521.24,1690.28 L522.25,1692.35 L523.16,1693.01 L525.54,1675.06 L527.11,1630.74 L528.11,1573.29 L528.78,1515.89 L529.35,1471.77 L530.08,1454.14 L530.67,1469.42 L530.9,1508.12 L531.05,1559.54 L531.38,1612.99 L532.18,1657.75 L533.71,1683.13 L534.11,1685.38 L534.55,1687.39 L535.01,1689.06 L535.46,1690.33 L535.91,1691.12 L536.34,1691.37 L538.48,1670.64 L540.27,1619.32 L541.78,1552.73 L543.07,1486.2 L544.2,1435.05 L545.24,1414.6 L545.84,1432.07 L545.9,1476.48 L545.82,1535.8 L545.97,1598.03 L546.74,1651.14 L548.53,1683.13 L549.18,1687.3 L549.89,1691.09 L550.64,1694.32 L551.4,1696.82 L552.13,1698.42 L552.82,1698.95 L555.11,1679.38 L556.92,1630.94 L558.36,1568.07 L559.56,1505.26 L560.64,1456.97 L561.71,1437.66 L562.37,1454.31 L562.54,1495.95 L562.6,1550.12 L562.94,1604.38 L563.94,1646.28 L566,1663.36 L566.61,1662.74 L567.28,1661.03 L567.98,1658.77 L568.67,1656.51 L569.34,1654.78 L569.95,1654.14 L570.87,1656.5 L571.67,1662.21 L572.37,1669.58 L573.01,1676.92 L573.62,1682.55 L574.23,1684.78 L575.71,1669.46 L576.94,1631.31 L577.97,1581.74 L578.87,1532.19 L579.7,1494.09 L580.49,1478.85 L581.15,1489.85 L581.65,1518.17 L582.09,1556.73 L582.53,1598.48 L583.07,1636.38 L583.79,1663.36 L584.17,1672.21 L584.57,1680.91 L584.99,1688.82 L585.44,1695.28 L585.91,1699.65 L586.43,1701.25 L586.92,1699.06 L587.45,1693.57 L588,1686.43 L588.57,1679.29 L589.14,1673.8 L589.72,1671.6 L590.37,1674.29 L591.04,1681.01 L591.73,1689.74 L592.4,1698.47 L593.06,1705.17 L593.67,1707.84 L594.92,1694.33 L596.04,1660.64 L597.05,1616.86 L597.97,1573.09 L598.81,1539.43 L599.6,1525.96 L600.01,1537.45 L599.99,1566.49 L599.89,1605 L600.1,1644.87 L600.98,1678.01 L602.9,1696.31 L603.41,1697.58 L603.96,1698.45 L604.54,1699.09 L605.12,1699.65 L605.68,1700.32 L606.19,1701.25 L606.98,1703.8 L607.69,1707.23 L608.34,1710.96 L608.96,1714.35 L609.56,1716.81 L610.15,1717.73 L612.24,1698.16 L613.9,1649.6 L615.24,1586.57 L616.36,1523.58 L617.37,1475.15 L618.39,1455.78 L619,1472.02 L619.07,1513.3 L619.04,1568.49 L619.34,1626.46 L620.4,1676.07 L622.67,1706.19 L623.51,1710.38 L624.46,1714.19 L625.45,1717.43 L626.45,1719.94 L627.4,1721.53 L628.27,1722.01 L630.96,1700.21 L632.57,1646.53 L633.46,1576.96 L633.95,1507.48 L634.41,1454.07 L635.19,1432.72 L635.69,1451.82 L635.55,1500.13 L635.36,1564.19 L635.76,1630.51 L637.37,1685.63 L640.79,1716.08 L641.71,1718.52 L642.71,1720.62 L643.75,1722.33 L644.79,1723.57 L645.8,1724.25 L646.72,1724.32 L650.42,1700.84 L652.37,1644.42 L653.14,1571.65 L653.29,1499.12 L653.38,1443.43 L653.97,1421.19 L654.73,1438.82 L655.2,1483.78 L655.62,1544.1 L656.22,1607.87 L657.24,1663.13 L658.91,1697.96 L659.55,1703.3 L660.25,1707.57 L660.97,1711.11 L661.72,1714.29 L662.47,1717.48 L663.2,1721.02" fill="none" stroke="#3b4150" stroke-width="3.7" stroke-linejoin="round"/>
<path d="M103.5,1758.5V1892.0M109.5,1758.5V1892.0M110.5,1758.5V1892.0M112.5,1758.5V1892.0M118.5,1758.5V1892.0M125.5,1758.5V1892.0M133.5,1758.5V1892.0M134.5,1758.5V1892.0M138.5,1758.5V1892.0M143.5,1758.5V1892.0M149.5,1758.5V1892.0M150.5,1758.5V1892.0M155.5,1758.5V1892.0M158.5,1758.5V1892.0M160.5,1758.5V1892.0M161.5,1758.5V1892.0M162.5,1758.5V1892.0M165.5,1758.5V1892.0M171.5,1758.5V1892.0M174.5,1758.5V1892.0M183.5,1758.5V1892.0M191.5,1758.5V1892.0M192.5,1758.5V1892.0M194.5,1758.5V1892.0M195.5,1758.5V1892.0M198.5,1758.5V1892.0M204.5,1758.5V1892.0M207.5,1758.5V1892.0M218.5,1758.5V1892.0M219.5,1758.5V1892.0M220.5,1758.5V1892.0M223.5,1758.5V1892.0M229.5,1758.5V1892.0M231.5,1758.5V1892.0M235.5,1758.5V1892.0M240.5,1758.5V1892.0M245.5,1758.5V1892.0M248.5,1758.5V1892.0M253.5,1758.5V1892.0M257.5,1758.5V1892.0M267.5,1758.5V1892.0M269.5,1758.5V1892.0M271.5,1758.5V1892.0M274.5,1758.5V1892.0M277.5,1758.5V1892.0M283.5,1758.5V1892.0M284.5,1758.5V1892.0M289.5,1758.5V1892.0M291.5,1758.5V1892.0M292.5,1758.5V1892.0M293.5,1758.5V1892.0M300.5,1758.5V1892.0M309.5,1758.5V1892.0M316.5,1758.5V1892.0M322.5,1758.5V1892.0M327.5,1758.5V1892.0M330.5,1758.5V1892.0M331.5,1758.5V1892.0M333.5,1758.5V1892.0M335.5,1758.5V1892.0M339.5,1758.5V1892.0M346.5,1758.5V1892.0M348.5,1758.5V1892.0M357.5,1758.5V1892.0M363.5,1758.5V1892.0M369.5,1758.5V1892.0M370.5,1758.5V1892.0M373.5,1758.5V1892.0M378.5,1758.5V1892.0M388.5,1758.5V1892.0" stroke="#000" stroke-width="1.15" fill="none"/>
<rect x="392.2" y="1758.5" width="4.6" height="133.5" fill="#000" fill-opacity="0.9900000000000001"/>
<rect x="397.4" y="1758.5" width="1.2" height="133.5" fill="#000" fill-opacity="0.5"/>
<rect x="399.6" y="1758.5" width="0.9" height="133.5" fill="#000" fill-opacity="0.9"/>
<rect x="405.4" y="1758.5" width="1.3" height="133.5" fill="#000" fill-opacity="0.9"/>
<rect x="409.8" y="1758.5" width="1.8" height="133.5" fill="#000" fill-opacity="0.9900000000000001"/>
<rect x="423.4" y="1758.5" width="1.8" height="133.5" fill="#000" fill-opacity="0.9900000000000001"/>
<rect x="426.1" y="1758.5" width="4.7" height="133.5" fill="#000" fill-opacity="0.935"/>
<rect x="446.8" y="1758.5" width="1.0" height="133.5" fill="#000" fill-opacity="0.9"/>
<rect x="462.3" y="1758.5" width="1.8" height="133.5" fill="#000" fill-opacity="0.77"/>
<rect x="469.1" y="1758.5" width="2.5" height="133.5" fill="#000" fill-opacity="0.9900000000000001"/>
<rect x="472.5" y="1758.5" width="1.3" height="133.5" fill="#000" fill-opacity="0.9"/>
<rect x="476.2" y="1758.5" width="1.3" height="133.5" fill="#000" fill-opacity="0.9"/>
<rect x="480.0" y="1758.5" width="2.0" height="133.5" fill="#000" fill-opacity="0.77"/>
<rect x="488.2" y="1758.5" width="3.8" height="133.5" fill="#000" fill-opacity="1.0"/>
<rect x="496.5" y="1758.5" width="1.2" height="133.5" fill="#000" fill-opacity="0.9"/>
<rect x="505.5" y="1758.5" width="2.5" height="133.5" fill="#000" fill-opacity="0.9900000000000001"/>
<rect x="509.2" y="1758.5" width="1.3" height="133.5" fill="#000" fill-opacity="0.9"/>
<rect x="511.7" y="1758.5" width="1.9" height="133.5" fill="#000" fill-opacity="0.9900000000000001"/>
<rect x="521.6" y="1758.5" width="1.9" height="133.5" fill="#000" fill-opacity="0.9900000000000001"/>
<rect x="529.6" y="1758.5" width="1.2" height="133.5" fill="#000" fill-opacity="0.9"/>
<rect x="531.4" y="1758.5" width="4.4" height="133.5" fill="#000" fill-opacity="1.0"/>
<rect x="535.9" y="1758.5" width="0.4" height="133.5" fill="#000" fill-opacity="0.9"/>
<rect x="537.2" y="1758.5" width="1.3" height="133.5" fill="#000" fill-opacity="0.7"/>
<rect x="539.3" y="1758.5" width="1.9" height="133.5" fill="#000" fill-opacity="0.9900000000000001"/>
<rect x="546.7" y="1758.5" width="3.7" height="133.5" fill="#000" fill-opacity="0.935"/>
<rect x="557.0" y="1758.5" width="1.5" height="133.5" fill="#000" fill-opacity="0.5"/>
<rect x="562.0" y="1758.5" width="0.8" height="133.5" fill="#000" fill-opacity="0.9"/>
<rect x="578.5" y="1758.5" width="1.0" height="133.5" fill="#000" fill-opacity="0.9"/>
<rect x="580.5" y="1758.5" width="1.5" height="133.5" fill="#000" fill-opacity="0.5"/>
<rect x="583.2" y="1758.5" width="1.8" height="133.5" fill="#000" fill-opacity="0.9900000000000001"/>
<rect x="601.7" y="1758.5" width="1.3" height="133.5" fill="#000" fill-opacity="0.9"/>
<rect x="604.2" y="1758.5" width="1.2" height="133.5" fill="#000" fill-opacity="0.9"/>
<rect x="606.4" y="1758.5" width="2.7" height="133.5" fill="#000" fill-opacity="1.0"/>
<rect x="610.4" y="1758.5" width="7.4" height="133.5" fill="#000" fill-opacity="1.0"/>
<rect x="623.0" y="1758.5" width="6.5" height="133.5" fill="#000" fill-opacity="0.9900000000000001"/>
<rect x="630.1" y="1758.5" width="1.0" height="133.5" fill="#000" fill-opacity="0.9"/>
<rect x="635.1" y="1758.5" width="2.5" height="133.5" fill="#000" fill-opacity="0.9900000000000001"/>
<rect x="643.1" y="1758.5" width="2.5" height="133.5" fill="#000" fill-opacity="1.0"/>
<rect x="646.2" y="1758.5" width="1.9" height="133.5" fill="#000" fill-opacity="0.77"/>
<rect x="653.6" y="1758.5" width="1.0" height="133.5" fill="#000" fill-opacity="0.9"/>
<rect x="655.5" y="1758.5" width="1.2" height="133.5" fill="#000" fill-opacity="0.9"/>
<rect x="663.5" y="1758.5" width="1.0" height="133.5" fill="#000" fill-opacity="0.95"/>
<path d="M418.70,1758.5V1892.0M421.00,1758.5V1892.0M438.70,1758.5V1892.0M440.40,1758.5V1892.0M442.40,1758.5V1892.0M443.75,1758.5V1892.0M445.10,1758.5V1892.0M455.70,1758.5V1892.0M456.75,1758.5V1892.0M457.80,1758.5V1892.0M458.85,1758.5V1892.0M459.90,1758.5V1892.0M466.50,1758.5V1892.0M468.00,1758.5V1892.0M483.80,1758.5V1892.0M485.30,1758.5V1892.0M499.20,1758.5V1892.0M500.97,1758.5V1892.0M502.73,1758.5V1892.0M504.50,1758.5V1892.0M515.30,1758.5V1892.0M516.34,1758.5V1892.0M517.38,1758.5V1892.0M518.42,1758.5V1892.0M519.46,1758.5V1892.0M520.50,1758.5V1892.0M525.20,1758.5V1892.0M526.70,1758.5V1892.0M551.60,1758.5V1892.0M552.65,1758.5V1892.0M553.70,1758.5V1892.0M567.00,1758.5V1892.0M568.15,1758.5V1892.0M569.30,1758.5V1892.0M572.00,1758.5V1892.0M573.27,1758.5V1892.0M574.55,1758.5V1892.0M575.83,1758.5V1892.0M577.10,1758.5V1892.0M586.80,1758.5V1892.0M588.45,1758.5V1892.0M590.10,1758.5V1892.0M591.40,1758.5V1892.0M592.63,1758.5V1892.0M593.87,1758.5V1892.0M595.10,1758.5V1892.0M596.33,1758.5V1892.0M597.57,1758.5V1892.0M598.80,1758.5V1892.0M618.90,1758.5V1892.0M620.55,1758.5V1892.0M622.20,1758.5V1892.0M638.70,1758.5V1892.0M640.35,1758.5V1892.0M642.00,1758.5V1892.0M659.70,1758.5V1892.0M661.35,1758.5V1892.0M663.00,1758.5V1892.0" stroke="#000" stroke-width="1.05" fill="none"/>
<line x1="101.5" y1="1348.8" x2="101.5" y2="1752.4" stroke="#1a1a1a" stroke-width="3.5"/>
<line x1="102" y1="1909.2" x2="666" y2="1909.2" stroke="#1a1a1a" stroke-width="3.5"/>
<line x1="88.3" y1="1739.7" x2="101.5" y2="1739.7" stroke="#1a1a1a" stroke-width="3.5"/>
<line x1="88.3" y1="1699.2" x2="101.5" y2="1699.2" stroke="#1a1a1a" stroke-width="3.5"/>
<line x1="88.3" y1="1658.7" x2="101.5" y2="1658.7" stroke="#1a1a1a" stroke-width="3.5"/>
<line x1="88.3" y1="1618.2" x2="101.5" y2="1618.2" stroke="#1a1a1a" stroke-width="3.5"/>
<line x1="88.3" y1="1577.7" x2="101.5" y2="1577.7" stroke="#1a1a1a" stroke-width="3.5"/>
<line x1="88.3" y1="1537.2" x2="101.5" y2="1537.2" stroke="#1a1a1a" stroke-width="3.5"/>
<line x1="88.3" y1="1496.7" x2="101.5" y2="1496.7" stroke="#1a1a1a" stroke-width="3.5"/>
<line x1="88.3" y1="1456.2" x2="101.5" y2="1456.2" stroke="#1a1a1a" stroke-width="3.5"/>
<line x1="88.3" y1="1415.7" x2="101.5" y2="1415.7" stroke="#1a1a1a" stroke-width="3.5"/>
<line x1="88.3" y1="1375.2" x2="101.5" y2="1375.2" stroke="#1a1a1a" stroke-width="3.5"/>
<line x1="167.3" y1="1909.2" x2="167.3" y2="1921.8" stroke="#1a1a1a" stroke-width="3.5"/>
<line x1="301.1" y1="1909.2" x2="301.1" y2="1921.8" stroke="#1a1a1a" stroke-width="3.5"/>
<line x1="434.9" y1="1909.2" x2="434.9" y2="1921.8" stroke="#1a1a1a" stroke-width="3.5"/>
<line x1="568.7" y1="1909.2" x2="568.7" y2="1921.8" stroke="#1a1a1a" stroke-width="3.5"/>
<circle cx="969.9" cy="1481.7" r="112.5" fill="none" stroke="#d9d9d9" stroke-width="4"/>
<path d="M857.4,1481.7 L857.49,1486.08 L857.74,1490.46 L858.17,1494.83 L858.76,1499.17 L859.53,1503.49 L860.46,1507.77" fill="none" stroke="#808080" stroke-width="4"/>
<path d="M869.84,1533.12 L871.92,1536.98 L874.15,1540.76 L876.52,1544.45 L879.04,1548.04 L881.69,1551.53 L884.48,1554.91" fill="none" stroke="#808080" stroke-width="4"/>
<path d="M904.41,1573.17 L908.03,1575.66 L911.73,1578 L915.53,1580.19 L919.41,1582.23 L923.37,1584.12 L927.39,1585.86" fill="none" stroke="#808080" stroke-width="4"/>
<path d="M953.47,1592.99 L957.82,1593.55 L962.18,1593.94 L966.56,1594.15 L970.95,1594.2 L975.33,1594.07 L979.71,1593.77" fill="none" stroke="#808080" stroke-width="4"/>
<path d="M1006.15,1588.2 L1010.28,1586.7 L1014.34,1585.05 L1018.33,1583.24 L1022.25,1581.28 L1026.09,1579.16 L1029.85,1576.9" fill="none" stroke="#808080" stroke-width="4"/>
<path d="M1050.83,1559.85 L1053.81,1556.64 L1056.67,1553.31 L1059.39,1549.87 L1061.98,1546.33 L1064.43,1542.7 L1066.73,1538.97" fill="none" stroke="#808080" stroke-width="4"/>
<path d="M1077.6,1514.22 L1078.78,1509.99 L1079.8,1505.73 L1080.66,1501.43 L1081.34,1497.1 L1081.86,1492.74 L1082.2,1488.37" fill="none" stroke="#808080" stroke-width="4"/>
<path d="M1080.55,1461.39 L1079.68,1457.1 L1078.63,1452.84 L1077.43,1448.62 L1076.06,1444.46 L1074.52,1440.35 L1072.83,1436.3" fill="none" stroke="#808080" stroke-width="4"/>
<path d="M1059.03,1413.06 L1056.29,1409.64 L1053.42,1406.33 L1050.42,1403.13 L1047.29,1400.05 L1044.05,1397.1 L1040.7,1394.27" fill="none" stroke="#808080" stroke-width="4"/>
<path d="M1017.8,1379.91 L1013.8,1378.12 L1009.73,1376.49 L1005.6,1375.01 L1001.41,1373.7 L997.18,1372.56 L992.91,1371.58" fill="none" stroke="#808080" stroke-width="4"/>
<path d="M965.97,1369.27 L961.6,1369.51 L957.23,1369.92 L952.88,1370.49 L948.56,1371.24 L944.27,1372.16 L940.02,1373.24" fill="none" stroke="#808080" stroke-width="4"/>
<path d="M915.02,1383.5 L911.23,1385.71 L907.53,1388.07 L903.93,1390.57 L900.43,1393.21 L897.04,1395.98 L893.75,1398.89" fill="none" stroke="#808080" stroke-width="4"/>
<path d="M876.2,1419.44 L873.84,1423.14 L871.63,1426.93 L869.57,1430.8 L867.67,1434.75 L865.91,1438.77 L864.32,1442.85" fill="none" stroke="#808080" stroke-width="4"/>
<path d="M858.1,1469.16 L857.79,1472.29 L857.58,1475.42 L857.44,1478.56 L857.4,1481.7" fill="none" stroke="#808080" stroke-width="4"/>
<path d="M889.97,1478.35 L889.9,1481.22 L889.94,1484.09 L890.07,1486.96 L890.31,1489.82 L890.65,1492.66 L891.1,1495.5 L891.64,1498.32 L892.29,1501.11 L893.04,1503.89" fill="none" stroke="#808080" stroke-width="3.5"/>
<path d="M905.18,1528.72 L906.91,1531.01 L908.72,1533.24 L910.6,1535.4 L912.57,1537.5 L914.61,1539.52 L916.72,1541.46 L918.89,1543.33 L921.14,1545.12 L923.44,1546.83" fill="none" stroke="#808080" stroke-width="3.5"/>
<path d="M948.39,1558.75 L951.16,1559.48 L953.97,1560.1 L956.79,1560.62 L959.63,1561.04 L962.48,1561.36 L965.34,1561.57 L968.21,1561.68 L971.08,1561.69 L973.95,1561.6" fill="none" stroke="#808080" stroke-width="3.5"/>
<path d="M1000.9,1555.45 L1003.53,1554.29 L1006.11,1553.04 L1008.64,1551.69 L1011.13,1550.26 L1013.56,1548.73 L1015.94,1547.13 L1018.26,1545.43 L1020.51,1543.66 L1022.7,1541.8" fill="none" stroke="#808080" stroke-width="3.5"/>
<path d="M1040,1520.24 L1041.34,1517.7 L1042.59,1515.12 L1043.74,1512.49 L1044.8,1509.82 L1045.76,1507.11 L1046.62,1504.38 L1047.38,1501.61 L1048.05,1498.82 L1048.61,1496" fill="none" stroke="#808080" stroke-width="3.5"/>
<path d="M1048.78,1468.36 L1048.25,1465.54 L1047.62,1462.74 L1046.89,1459.96 L1046.06,1457.21 L1045.13,1454.5 L1044.11,1451.82 L1042.99,1449.18 L1041.78,1446.57 L1040.47,1444.02" fill="none" stroke="#808080" stroke-width="3.5"/>
<path d="M1023.43,1422.25 L1021.26,1420.37 L1019.03,1418.56 L1016.73,1416.84 L1014.38,1415.2 L1011.96,1413.65 L1009.5,1412.19 L1006.98,1410.81 L1004.41,1409.53 L1001.8,1408.34" fill="none" stroke="#808080" stroke-width="3.5"/>
<path d="M974.92,1401.86 L972.06,1401.73 L969.19,1401.7 L966.32,1401.78 L963.45,1401.96 L960.6,1402.24 L957.75,1402.63 L954.92,1403.11 L952.12,1403.7 L949.33,1404.39" fill="none" stroke="#808080" stroke-width="3.5"/>
<path d="M924.24,1416.01 L921.92,1417.69 L919.65,1419.45 L917.45,1421.29 L915.32,1423.21 L913.25,1425.21 L911.26,1427.28 L909.35,1429.41 L907.51,1431.62 L905.76,1433.89" fill="none" stroke="#808080" stroke-width="3.5"/>
<path d="M893.31,1458.58 L892.53,1461.34 L891.85,1464.13 L891.27,1466.94 L890.79,1469.78 L890.42,1472.62 L890.14,1475.48 L889.97,1478.35" fill="none" stroke="#808080" stroke-width="3.5"/>
<path d="M931.61,1493.26 L932.04,1494.61 L932.52,1495.94 L933.05,1497.25 L933.62,1498.55 L934.24,1499.82 L934.9,1501.07 L935.61,1502.3 L936.36,1503.5 L937.15,1504.67 L937.99,1505.82 L938.86,1506.93 L939.77,1508.01 L940.72,1509.06 L941.71,1510.08 L942.73,1511.06 L943.79,1512 L944.88,1512.91 L945.99,1513.77" fill="none" stroke="#808080" stroke-width="3.5"/>
<path d="M972.55,1521.61 L973.96,1521.49 L975.37,1521.32 L976.77,1521.11 L978.16,1520.84 L979.54,1520.52 L980.9,1520.16 L982.26,1519.74 L983.6,1519.28 L984.92,1518.77 L986.22,1518.22 L987.5,1517.62 L988.76,1516.97 L990,1516.28 L991.21,1515.55 L992.39,1514.78 L993.55,1513.96 L994.68,1513.1 L995.77,1512.21" fill="none" stroke="#808080" stroke-width="3.5"/>
<path d="M1009.39,1488.1 L1009.59,1486.69 L1009.74,1485.29 L1009.84,1483.87 L1009.89,1482.46 L1009.89,1481.04 L1009.85,1479.63 L1009.75,1478.22 L1009.6,1476.81 L1009.4,1475.41 L1009.15,1474.01 L1008.86,1472.63 L1008.51,1471.26 L1008.12,1469.9 L1007.68,1468.55 L1007.19,1467.22 L1006.65,1465.91 L1006.07,1464.62 L1005.44,1463.35" fill="none" stroke="#808080" stroke-width="3.5"/>
<path d="M985.01,1444.67 L983.69,1444.15 L982.36,1443.69 L981,1443.27 L979.64,1442.9 L978.26,1442.58 L976.87,1442.31 L975.47,1442.09 L974.07,1441.92 L972.66,1441.8 L971.24,1441.72 L969.83,1441.7 L968.41,1441.73 L967,1441.81 L965.59,1441.93 L964.18,1442.11 L962.79,1442.34 L961.4,1442.61 L960.02,1442.94" fill="none" stroke="#808080" stroke-width="3.5"/>
<path d="M937.21,1458.64 L936.42,1459.81 L935.67,1461.01 L934.95,1462.24 L934.29,1463.49 L933.67,1464.76 L933.09,1466.05 L932.56,1467.36 L932.07,1468.69 L931.64,1470.04 L931.25,1471.4 L930.91,1472.77 L930.62,1474.16 L930.38,1475.55 L930.18,1476.96 L930.04,1478.36 L929.95,1479.78 L929.9,1481.19 L929.91,1482.61" fill="none" stroke="#808080" stroke-width="3.5"/>
<line x1="969.9" y1="1481.7" x2="996.4" y2="1481.7" stroke="#808080" stroke-width="3.3"/>
<line x1="1023.9" y1="1481.7" x2="1050.4" y2="1481.7" stroke="#808080" stroke-width="3.3"/>
<line x1="1077.9" y1="1481.7" x2="1082.4" y2="1481.7" stroke="#808080" stroke-width="3.3"/>
<line x1="969.9" y1="1481.7" x2="969.9" y2="1455.2" stroke="#808080" stroke-width="3.3"/>
<line x1="969.9" y1="1427.7" x2="969.9" y2="1401.2" stroke="#808080" stroke-width="3.3"/>
<line x1="969.9" y1="1373.7" x2="969.9" y2="1369.2" stroke="#808080" stroke-width="3.3"/>
<line x1="969.9" y1="1481.7" x2="943.4" y2="1481.7" stroke="#808080" stroke-width="3.3"/>
<line x1="915.9" y1="1481.7" x2="889.4" y2="1481.7" stroke="#808080" stroke-width="3.3"/>
<line x1="861.9" y1="1481.7" x2="857.4" y2="1481.7" stroke="#808080" stroke-width="3.3"/>
<line x1="969.9" y1="1481.7" x2="969.9" y2="1508.2" stroke="#808080" stroke-width="3.3"/>
<line x1="969.9" y1="1535.7" x2="969.9" y2="1562.2" stroke="#808080" stroke-width="3.3"/>
<line x1="969.9" y1="1589.7" x2="969.9" y2="1594.2" stroke="#808080" stroke-width="3.3"/>
<path d="M932.8,1396.3 L944,1399.1 L951,1403.3 L955.2,1408.2 L963.6,1413.1 L970.6,1416.6 L976.2,1420.8 L981.8,1425 L986,1430.6 L988.1,1437.6 L991.6,1444.6 L995.1,1448.8 L998.6,1455.8 L1002.1,1468.4 L1006.3,1474 L1015.4,1475.4 L1015.4,1478.5 L1007,1478.2 L1001.4,1481 L1000,1488 L1006.3,1493.6 L1004.2,1502 L1007,1514.6 L1002.8,1524.4 L995.8,1530 L986,1531.4 L974.8,1535.6 L969.2,1536.3 L958,1540.5 L949.6,1545.4 L938.4,1542.6 L927.2,1538.4 L916,1535.6 L906.2,1530 L896.4,1526.5 L892.2,1516 L890.8,1506.2 L883.1,1504.8 L878.2,1493.6 L874,1482.4 L873.3,1468.4 L872.6,1455.8 L879.6,1448.8 L878.9,1436.2 L880.3,1429.2 L884.5,1425 L890.1,1418 L897.8,1409.6 L906.2,1402.6 L913.2,1399.1 L923,1397Z" fill="#f02828" stroke="none" fill-opacity="0.55"/>
<path d="M1100.14,1450.19 L1098.89,1445.41 L1097.47,1440.68 L1095.87,1436.01 L1094.1,1431.4 L1092.16,1426.86 L1090.06,1422.39 L1087.79,1418 L1085.37,1413.7 L1082.78,1409.49 L1080.04,1405.38 L1077.16,1401.38 L1074.12,1397.48 L1070.95,1393.69 L1067.64,1390.03 L1064.19,1386.49 L1060.62,1383.08 L1056.93,1379.81" fill="none" stroke="#000" stroke-width="3.8"/>
<path d="M1035.15,1366.38 L1063.61,1372.77 L1054.37,1378.23 L1053.64,1388.94Z" fill="#000" stroke="none"/>
<path d="M838.93,1510.02 L840,1514.61 L841.24,1519.16 L842.64,1523.66 L844.2,1528.12 L845.91,1532.51 L847.77,1536.84 L849.79,1541.11 L851.95,1545.3 L854.26,1549.41 L856.72,1553.43 L859.31,1557.37 L862.04,1561.22 L864.91,1564.96 L867.9,1568.61 L871.03,1572.14 L874.27,1575.57 L877.63,1578.87 L881.11,1582.06" fill="none" stroke="#000" stroke-width="3.8"/>
<path d="M902.05,1595.51 L874.29,1588.97 L883.63,1583.68 L884.56,1572.99Z" fill="#000" stroke="none"/>
<path d="M874.83,1833.07 L881.62,1811.44 L888.83,1831.01 L895.01,1831.01 L902.22,1825.86 L909.42,1816.59 L916.01,1804.65 L921.78,1790.85 L931.05,1770.26 L937.22,1743.58 L943.4,1713.8 L950.61,1698.36 L957.82,1694.24 L964,1690.12 L971.2,1698.36 L978.41,1697.83 L985.62,1708.04 L991.8,1714.22 L999,1729.66 L1006.21,1733.78 L1012.39,1752.31 L1018.57,1758.49 L1025.77,1763.64 L1032.98,1780.11 L1040.19,1780.11 L1047.4,1792.44 L1053.57,1796.56 L1060.78,1790.38 L1067.99,1797.59 L1075.2,1815.56 L1081.38,1823.8 L1088.58,1839.24 L1094.76,1835.13 L1094.76,1846.13 L1088.58,1850.24 L1081.38,1834.8 L1075.2,1826.56 L1067.99,1811.59 L1060.78,1804.38 L1053.57,1810.56 L1047.4,1806.44 L1040.19,1796.11 L1032.98,1796.11 L1025.77,1779.64 L1018.57,1774.49 L1012.39,1768.31 L1006.21,1749.78 L999,1745.66 L991.8,1730.22 L985.62,1724.04 L978.41,1716.83 L971.2,1718.36 L964,1710.12 L957.82,1714.24 L950.61,1718.36 L943.4,1733.8 L937.22,1760.58 L931.05,1781.26 L921.78,1801.85 L916.01,1815.65 L909.42,1827.59 L902.22,1836.86 L895.01,1842.01 L888.83,1842.01 L881.62,1822.44 L874.83,1844.07Z" fill="#c8c8c8" stroke="none"/>
<path d="M874.83,1838.57 L881.62,1816.94 L888.83,1836.51 L895.01,1836.51 L902.22,1831.36 L909.42,1822.09 L916.01,1810.15 L921.78,1796.35 L931.05,1775.76 L937.22,1752.08 L943.4,1725.3 L950.61,1709.86 L957.82,1705.74 L964,1701.62 L971.2,1709.86 L978.41,1708.83 L985.62,1716.04 L991.8,1722.22 L999,1737.66 L1006.21,1741.78 L1012.39,1760.31 L1018.57,1766.49 L1025.77,1771.64 L1032.98,1788.11 L1040.19,1788.11 L1047.4,1799.44 L1053.57,1803.56 L1060.78,1797.38 L1067.99,1804.59 L1075.2,1821.06 L1081.38,1829.3 L1088.58,1844.74 L1094.76,1840.63" fill="none" stroke="#000" stroke-width="3.9" stroke-linejoin="round"/>
<line x1="874.6" y1="1687" x2="874.6" y2="1917.7" stroke="#1a1a1a" stroke-width="3.5"/>
<line x1="867.7" y1="1909.6" x2="1096.7" y2="1909.6" stroke="#1a1a1a" stroke-width="3.5"/>
<line x1="985.1" y1="1901" x2="985.1" y2="1917.7" stroke="#1a1a1a" stroke-width="3.5"/>
<line x1="1095.2" y1="1909.6" x2="1095.2" y2="1917.7" stroke="#1a1a1a" stroke-width="3.5"/>
<line x1="867.4" y1="1711.66" x2="874.6" y2="1711.66" stroke="#1a1a1a" stroke-width="3.5"/>
<line x1="867.4" y1="1744.65" x2="874.6" y2="1744.65" stroke="#1a1a1a" stroke-width="3.5"/>
<line x1="867.4" y1="1777.64" x2="874.6" y2="1777.64" stroke="#1a1a1a" stroke-width="3.5"/>
<line x1="867.4" y1="1810.63" x2="874.6" y2="1810.63" stroke="#1a1a1a" stroke-width="3.5"/>
<line x1="867.4" y1="1843.62" x2="874.6" y2="1843.62" stroke="#1a1a1a" stroke-width="3.5"/>
<line x1="867.4" y1="1876.61" x2="874.6" y2="1876.61" stroke="#1a1a1a" stroke-width="3.5"/>
<text x="-2.94" y="24.2" font-size="34" font-weight="bold" fill="#000">a</text>
<text x="659.52" y="24.2" font-size="34" font-weight="bold" fill="#000">b</text>
<text x="-1.22" y="688.6" font-size="34" font-weight="bold" fill="#000">c</text>
<text x="660.04" y="688.4" font-size="34" font-weight="bold" fill="#000">d</text>
<text x="1.14" y="1336.3" font-size="34" font-weight="bold" fill="#000">e</text>
<text x="723.62" y="1335.8" font-size="34" font-weight="bold" fill="#000">f</text>
<text x="81.87" y="82.28" font-size="29.3" font-weight="normal" fill="#000">0.2</text>
<text x="81.87" y="144.49" font-size="29.3" font-weight="normal" fill="#000">0.1</text>
<text x="106.3" y="206.7" font-size="29.3" font-weight="normal" fill="#000">0</text>
<text x="72.11" y="268.91" font-size="29.3" font-weight="normal" fill="#000">-0.1</text>
<text x="72.11" y="331.12" font-size="29.3" font-weight="normal" fill="#000">-0.2</text>
<text x="72.11" y="393.33" font-size="29.3" font-weight="normal" fill="#000">-0.3</text>
<text x="72.11" y="455.54" font-size="29.3" font-weight="normal" fill="#000">-0.4</text>
<text x="72.11" y="517.75" font-size="29.3" font-weight="normal" fill="#000">-0.5</text>
<text x="72.11" y="579.96" font-size="29.3" font-weight="normal" fill="#000">-0.6</text>
<text x="320.84" y="624.7" font-size="29.3" font-weight="normal" fill="#000">0.5</text>
<text x="537.06" y="624.7" font-size="29.3" font-weight="normal" fill="#000">1</text>
<text x="297.45" y="659.5" font-size="29.3" font-weight="normal" fill="#000">Time (ms)</text>
<text transform="translate(50.4,395.94) rotate(-90)" font-size="29.3" font-weight="normal" fill="#000">Voltage (mV)</text>
<text x="737.16" y="102.8" font-size="29.3" font-weight="normal" fill="#000">5</text>
<text x="720.75" y="172.18" font-size="29.3" font-weight="normal" fill="#000">10</text>
<text x="720.75" y="241.55" font-size="29.3" font-weight="normal" fill="#000">15</text>
<text x="720.75" y="310.93" font-size="29.3" font-weight="normal" fill="#000">20</text>
<text x="720.75" y="380.3" font-size="29.3" font-weight="normal" fill="#000">25</text>
<text x="720.75" y="449.68" font-size="29.3" font-weight="normal" fill="#000">30</text>
<text x="720.75" y="519.05" font-size="29.3" font-weight="normal" fill="#000">35</text>
<text x="720.75" y="588.42" font-size="29.3" font-weight="normal" fill="#000">40</text>
<text x="750.16" y="625" font-size="29.3" font-weight="normal" fill="#000">-50</text>
<text x="847.1" y="625" font-size="29.3" font-weight="normal" fill="#000">0</text>
<text x="922.94" y="625" font-size="29.3" font-weight="normal" fill="#000">50</text>
<text x="998.05" y="625" font-size="29.3" font-weight="normal" fill="#000">100</text>
<text x="1081.95" y="625" font-size="29.3" font-weight="normal" fill="#000">150</text>
<text x="1166.29" y="625" font-size="29.3" font-weight="normal" fill="#000">200</text>
<text x="916.25" y="659.5" font-size="29.3" font-weight="normal" fill="#000">Time (ms)</text>
<text transform="translate(689.4,369.91) rotate(-90)" font-size="29.3" font-weight="normal" fill="#000">Stimulation#</text>
<text x="77.19" y="811.36" font-size="29" font-weight="normal" fill="#000">0.2</text>
<text x="77.19" y="858.98" font-size="29" font-weight="normal" fill="#000">0.1</text>
<text x="101.37" y="906.6" font-size="29" font-weight="normal" fill="#000">0</text>
<text x="67.52" y="954.22" font-size="29" font-weight="normal" fill="#000">-0.1</text>
<text x="67.52" y="1001.84" font-size="29" font-weight="normal" fill="#000">-0.2</text>
<text x="67.52" y="1049.46" font-size="29" font-weight="normal" fill="#000">-0.3</text>
<text x="67.52" y="1097.08" font-size="29" font-weight="normal" fill="#000">-0.4</text>
<text x="67.52" y="1144.7" font-size="29" font-weight="normal" fill="#000">-0.5</text>
<text x="67.52" y="1192.32" font-size="29" font-weight="normal" fill="#000">-0.6</text>
<text x="112.94" y="1263.2" font-size="29" font-weight="normal" fill="#000">-0.25</text>
<text x="335.63" y="1263.2" font-size="29" font-weight="normal" fill="#000">0</text>
<text x="513.37" y="1263.2" font-size="29" font-weight="normal" fill="#000">0.25</text>
<text x="292.01" y="1298.4" font-size="29.3" font-weight="normal" fill="#000">Time (s)</text>
<text transform="translate(46.2,1050.76) rotate(-90)" font-size="29.2" font-weight="normal" fill="#000">Voltage (mV)</text>
<text x="736.72" y="1220.3" font-size="29.2" font-weight="normal" fill="#000">0</text>
<text x="720.66" y="1136.7" font-size="29.2" font-weight="normal" fill="#000">50</text>
<text x="704.3" y="1053.1" font-size="29.2" font-weight="normal" fill="#000">100</text>
<text x="704.3" y="969.5" font-size="29.2" font-weight="normal" fill="#000">150</text>
<text x="704.3" y="885.9" font-size="29.2" font-weight="normal" fill="#000">200</text>
<text x="704.3" y="802.3" font-size="29.2" font-weight="normal" fill="#000">250</text>
<text x="704.3" y="718.7" font-size="29.2" font-weight="normal" fill="#000">300</text>
<text x="861.32" y="1253.2" font-size="29.2" font-weight="normal" fill="#000">0</text>
<text x="957.97" y="1253.2" font-size="29.2" font-weight="normal" fill="#000">50</text>
<text x="1053.88" y="1253.2" font-size="29.2" font-weight="normal" fill="#000">100</text>
<text x="919.35" y="1288.2" font-size="28.8" font-weight="normal" fill="#000">Time (ms)</text>
<text transform="translate(689.3,1050.18) rotate(-90)" font-size="29.4" font-weight="normal" fill="#000">Firing rate (spikes/s)</text>
<text transform="translate(45.68,1746.3) scale(1.13,1)" font-size="25" font-weight="normal" fill="#000">60</text>
<text transform="translate(45.68,1705.8) scale(1.13,1)" font-size="25" font-weight="normal" fill="#000">70</text>
<text transform="translate(45.82,1665.3) scale(1.13,1)" font-size="25" font-weight="normal" fill="#000">80</text>
<text transform="translate(45.68,1624.8) scale(1.13,1)" font-size="25" font-weight="normal" fill="#000">90</text>
<text transform="translate(37.35,1584.3) scale(1.13,1)" font-size="25" font-weight="normal" fill="#000">100</text>
<text transform="translate(38.48,1543.8) scale(1.13,1)" font-size="25" font-weight="normal" fill="#000">110</text>
<text transform="translate(37.35,1503.3) scale(1.13,1)" font-size="25" font-weight="normal" fill="#000">120</text>
<text transform="translate(37.35,1462.8) scale(1.13,1)" font-size="25" font-weight="normal" fill="#000">130</text>
<text transform="translate(37.35,1422.3) scale(1.13,1)" font-size="25" font-weight="normal" fill="#000">140</text>
<text transform="translate(37.35,1381.8) scale(1.13,1)" font-size="25" font-weight="normal" fill="#000">150</text>
<text x="153.53" y="1945.8" font-size="25.5" font-weight="normal" fill="#000">41</text>
<text x="287.33" y="1945.8" font-size="25.5" font-weight="normal" fill="#000">42</text>
<text x="421" y="1945.8" font-size="25.5" font-weight="normal" fill="#000">43</text>
<text x="554.68" y="1945.8" font-size="25.5" font-weight="normal" fill="#000">44</text>
<text x="330.75" y="1980.5" font-size="29.5" font-weight="normal" fill="#000">Time (s)</text>
<text transform="translate(23.8,1630.97) rotate(-90)" font-size="27.8" font-weight="normal" fill="#000">whisker angle</text>
<text transform="translate(24.2,1866.54) rotate(-90)" font-size="29" font-weight="normal" fill="#000">spikes</text>
<text x="949.63" y="1360" font-size="26.8" font-weight="normal" fill="#000">π/2</text>
<text x="1092.38" y="1488.2" font-size="25.6" font-weight="normal" fill="#000">0</text>
<text x="825.1" y="1488.3" font-size="27.5" font-weight="normal" fill="#000">π</text>
<text x="948.03" y="1623.5" font-size="26.8" font-weight="normal" fill="#000">3π/2</text>
<text x="1010.36" y="1433.8" font-size="25.5" font-weight="normal" fill="#000">100</text>
<text x="993.16" y="1460.6" font-size="26" font-weight="normal" fill="#000">50</text>
<text x="967.23" y="1483.2" font-size="26.8" font-weight="normal" fill="#000">0</text>
<text x="1025.05" y="1359.7" font-size="29.4" font-weight="normal" fill="#000">Protraction</text>
<text x="736.46" y="1616.6" font-size="29.3" font-weight="normal" fill="#000">Retraction</text>
<text x="814.02" y="1720.36" font-size="26" font-weight="normal" fill="#000">120</text>
<text x="814.02" y="1753.35" font-size="26" font-weight="normal" fill="#000">100</text>
<text x="818.76" y="1786.34" font-size="26" font-weight="normal" fill="#000">80</text>
<text x="818.5" y="1819.33" font-size="26" font-weight="normal" fill="#000">60</text>
<text x="818.68" y="1852.32" font-size="26" font-weight="normal" fill="#000">40</text>
<text x="818.5" y="1885.31" font-size="26" font-weight="normal" fill="#000">20</text>
<text x="824.16" y="1918.3" font-size="26" font-weight="normal" fill="#000">0</text>
<text x="865.38" y="1940.5" font-size="26.5" font-weight="normal" fill="#000">0</text>
<text x="973.91" y="1940.5" font-size="27.5" font-weight="normal" fill="#000">π</text>
<text x="1078.44" y="1940.5" font-size="26.5" font-weight="normal" fill="#000">2π</text>
<text x="917.16" y="1890.8" font-size="29.3" font-weight="normal" fill="#000">Protracted</text>
<text x="882.08" y="1977.7" font-size="29.3" font-weight="normal" fill="#000">Phase (radians)</text>
<text transform="translate(791.7,1895.57) rotate(-90)" font-size="29.3" font-weight="normal" fill="#000">Spike rate (Hz)</text>
</svg></body></html>
